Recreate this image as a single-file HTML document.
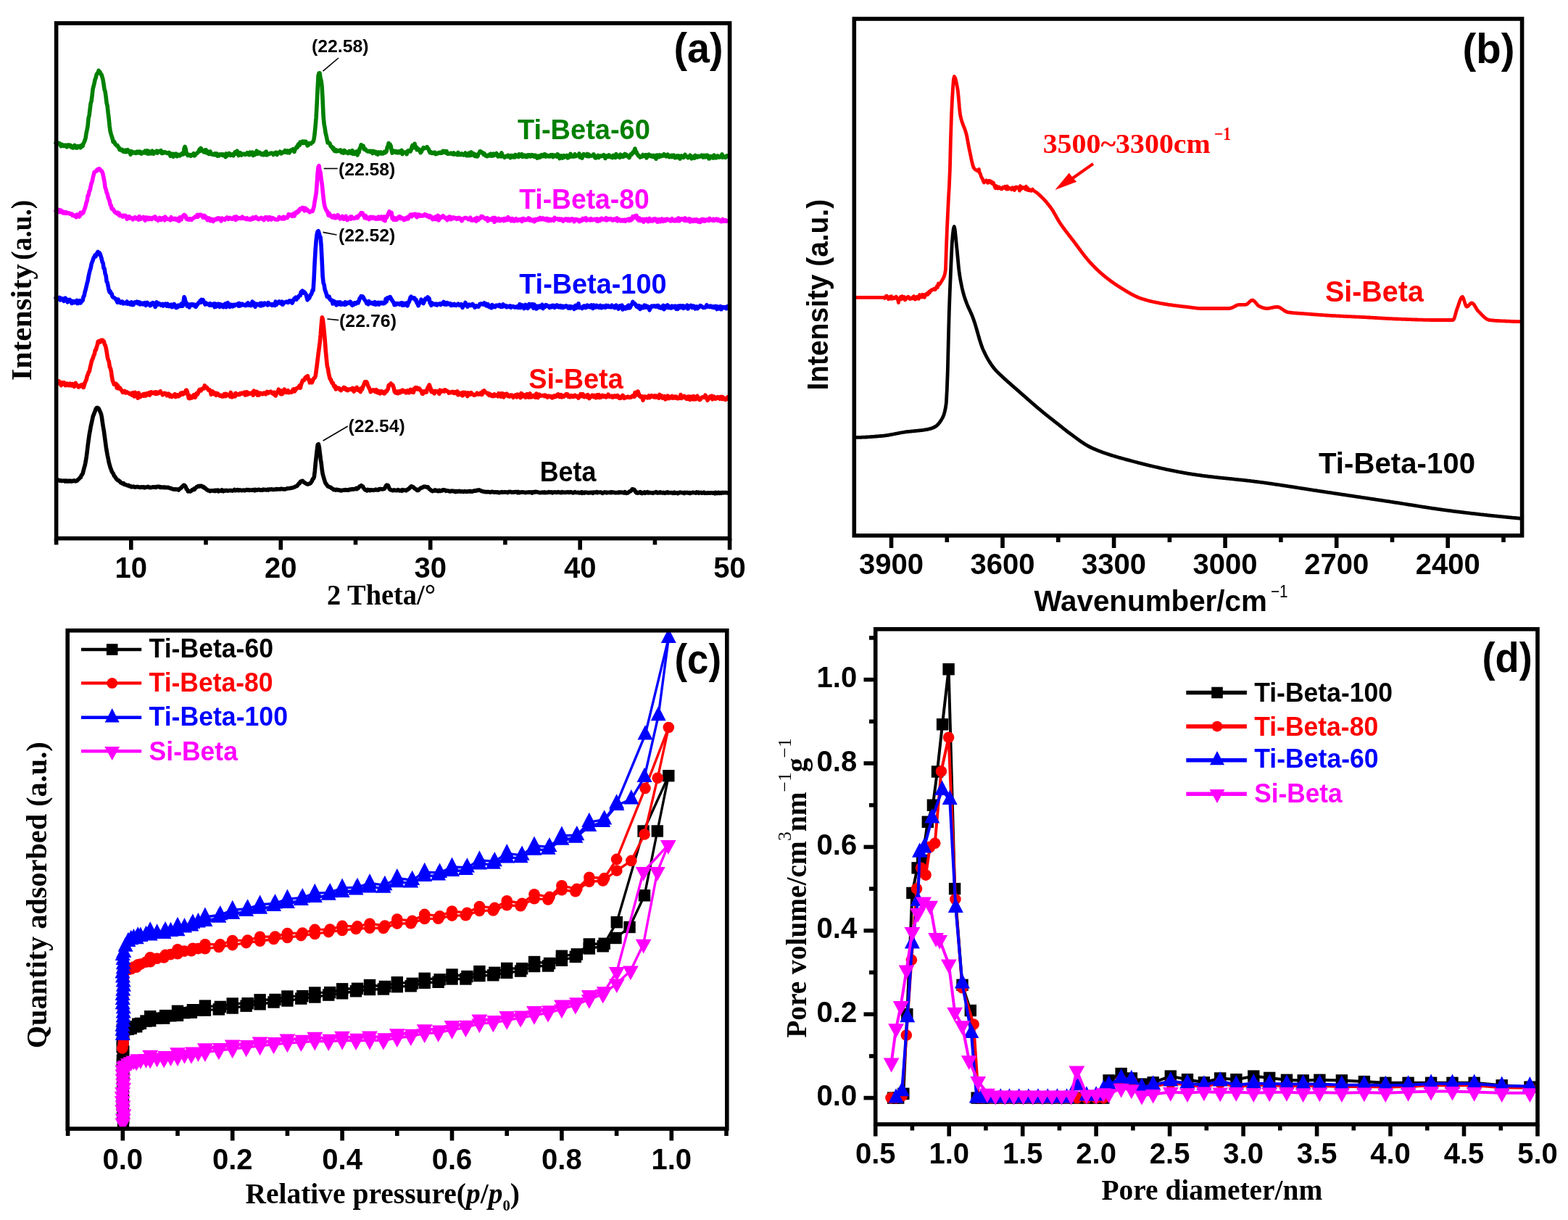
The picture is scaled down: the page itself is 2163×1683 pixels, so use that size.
<!DOCTYPE html><html><head><meta charset="utf-8"><title>Figure</title><style>html,body{margin:0;padding:0;background:#fff;overflow:hidden}svg{display:block}</style></head><body><svg width="2163" height="1683" viewBox="0 0 2163 1683"><rect width="100%" height="100%" fill="#fff"/><path d="M77.1 197.2l1 0.8l1 -0.4l1 -0.5l1 1l1 -0.4l1 1.8l1 2.1l1 -2.2l1 0.1l1 1.8l1 0.1l1 -0.1l1 -1.2l1 1.5l1 1.3l1 -2.7l1 1.5l1 -1.8l1 1.1l1 -0.6l1 2.5l1 -1.3l1 2.4l1 -0.1l1 -0.3l1 -3.2l1 2.8l1 0.7l1 0.2l1 -2.5l1 1.2l1 -1l1 -0.2l1 2.2l1 -3.2l1 0.4l1 0.5l1 -3.7l1 -1.7l1 -2.5l1 -3.4l1 -6.8l1 -4.6l1 -5.2l1 -10.9l1 -3.5l1 -8.3l1 -8.3l1 -3l1 -7.9l1 -8.9l1 -3.9l1 -4.1l1 -4.9l1 -2.4l1 -4.4l1 -1.7l1 -0.7l1 -3.4l1 1.8l1 0.5l1 2.8l1 0.5l1 3.5l1 4l1 6.5l1 6.4l1 3l1 7.1l1 8.9l1 3.5l1 9.6l1 7.9l1 10.3l1 7.2l1 3.9l1 3.3l1 3l1 4.8l1 -0.9l1 1.8l1 2.4l1 0.6l1 1.2l1 -0.2l1 2.5l1 0.3l1 3.1l1 -0.1l1 -0.3l1 1.5l1 -0.9l1 2.4l1 -1l1 1.2l1 -2.3l1 2.6l1 -2.7l1 -0.4l1 2.5l1 -0.7l1 1.6l1 3l1 -4.2l1 0.4l1 1.2l1 0.5l1 -0.9l1 0l1 1.4l1 -0.2l1 -2.1l1 1.4l1 0.2l1 -1.5l1 1.9l1 -1.6l1 2.6l1 -1l1 -0.1l1 -1l1 0.7l1 -2.6l1 1.2l1 2.1l1 -3.5l1 4.2l1 -3.7l1 3.5l1 -2.4l1 2.2l1 -1l1 -2.5l1 3.8l1 0.1l1 -2.2l1 -0.4l1 0l1 -1.2l1 2.8l1 -2.4l1 0.7l1 -1.1l1 0.2l1 -0.8l1 3.7l1 -1.9l1 1.8l1 -1.1l1 -0.7l1 0.8l1 0l1 1.1l1 -0.2l1 0.4l1 -1.2l1 1.2l1 3.7l1 -2.9l1 -0.3l1 2.3l1 1.7l1 -3.8l1 1.9l1 -0.5l1 -1.5l1 3.5l1 -1.1l1 0.1l1 -1.3l1 1.5l1 -1.7l1 0.3l1 -1.8l1 -0.6l1 1.8l1 -8l1 -2.6l1 2.8l1 5.8l1 2l1 1.6l1 -1.3l1 0.2l1 0.2l1 1.6l1 -0.6l1 -0.5l1 -1.3l1 -1.1l1 3.1l1 -0.5l1 -2.3l1 -0.1l1 -0.8l1 -1.1l1 -1l1 -2.8l1 2.2l1 -4l1 3l1 -0.3l1 0.9l1 1.9l1 0l1 -3.1l1 -0.1l1 4.1l1 -2l1 2l1 1.6l1 -3.1l1 -0.3l1 3.7l1 0l1 0l1 0.7l1 -1l1 -0.6l1 2l1 -0.9l1 -0.9l1 3l1 -0.8l1 0.6l1 -1.9l1 0.4l1 -0.5l1 0.1l1 1.5l1 -1.4l1 1.5l1 -0.1l1 2.3l1 -4.8l1 3.1l1 -1.4l1 0l1 -2.1l1 1.3l1 1.6l1 -1.2l1 0.2l1 -0.6l1 1.9l1 -1.7l1 -3.1l1 2l1 -1.9l1 -1.8l1 3.7l1 2.6l1 -1.9l1 -1.8l1 0.3l1 2.9l1 -1.4l1 -0.2l1 -0.2l1 0.1l1 1l1 -0.4l1 -0.5l1 -1.7l1 2.1l1 -1.7l1 2.5l1 -3.4l1 1.6l1 0.2l1 -1.9l1 4.3l1 -0.4l1 -2.7l1 1.7l1 -0.6l1 -4.2l1 4l1 -0.5l1 0.2l1 -1.6l1 1.1l1 0.1l1 1.9l1 -1.2l1 -0.5l1 2.1l1 -2.9l1 0.2l1 -2l1 4.7l1 -0.9l1 -0.1l1 -0.3l1 -0.9l1 0.2l1 -0.7l1 0l1 0.3l1 2l1 -1.3l1 -0.9l1 -0.8l1 -0.1l1 3.1l1 -1.6l1 -0.7l1 -0.7l1 -1.1l1 1.4l1 1.2l1 -1.9l1 0.1l1 -0.2l1 0.3l1 -2.5l1 1.7l1 -1.1l1 2.3l1 -2.6l1 1.7l1 1l1 -2.8l1 -0.7l1 0.8l1 -0.5l1 -1.7l1 1.7l1 1.8l1 -3.7l1 -0.7l1 -2.2l1 0.7l1 -3.6l1 -1.2l1 1.9l1 -4.3l1 1.6l1 -0.3l1 -2.4l1 0.2l1 2.1l1 -2.3l1 0.3l1 -0.1l1 2.9l1 2.7l1 -0.4l1 -2.7l1 -0.1l1 0.1l1 0.5l1 -1.5l1 -0.4l1 -1.1l1 -3.6l1 -7.2l1 -10.2l1 -12.1l1 -18.1l1 -21.4l1 -18.7l1 -3.1l1 0l1 7.5l1 2.9l1 8.3l1 17.9l1 22.8l1 11l1 4.8l1 7.4l1 3.7l1 5l1 4.7l1 -0.6l1 0.7l1 1.3l1 3.2l1 1.2l1 -0.1l1 2.7l1 -1l1 3.7l1 0.3l1 0.4l1 -1.8l1 1.7l1 -0.6l1 -0.1l1 0.3l1 -1.1l1 0l1 3.3l1 -1.2l1 0.7l1 1.2l1 -3.7l1 1.4l1 1.4l1 0.4l1 -1l1 2l1 -1.1l1 -2l1 0.5l1 2.4l1 -0.4l1 -3.3l1 4.6l1 -1l1 1l1 -2.4l1 0.2l1 -1.2l1 5.1l1 -4.5l1 0.7l1 -5.3l1 -1l1 -4.1l1 1.3l1 2.3l1 -2.2l1 4.6l1 0.4l1 -0.6l1 1.8l1 0.7l1 0.8l1 -0.5l1 -0.2l1 1l1 -0.8l1 -0.2l1 1.9l1 1.4l1 -3.2l1 2.3l1 -0.8l1 -0.4l1 2.7l1 -1.9l1 2.9l1 -3.2l1 1.7l1 -0.8l1 -0.8l1 1.9l1 -1l1 1l1 -0.9l1 -1.5l1 1.3l1 -0.8l1 -1l1 -5.5l1 -1.6l1 -4.4l1 2.6l1 -0.9l1 2l1 5.8l1 4.1l1 -3.2l1 0.6l1 0.5l1 -0.6l1 2.1l1 -1.6l1 0.1l1 1.8l1 -1.9l1 1.7l1 -2l1 -0.3l1 -0.9l1 5.2l1 -3l1 0.7l1 -0.3l1 0.2l1 -0.1l1 2.6l1 -4.2l1 -0.7l1 0.8l1 -1.1l1 1.4l1 -1.9l1 -4.4l1 -2.1l1 0.6l1 2.6l1 -5.4l1 5.5l1 -1.2l1 4.1l1 -1.9l1 2.1l1 -0.9l1 1.2l1 3.4l1 -1.1l1 -2.2l1 -1.5l1 -2.2l1 1.2l1 -0.2l1 -0.5l1 -0.2l1 -1.3l1 2l1 0.9l1 3l1 2.1l1 -1.2l0.9 0.6l1 1.4l1 -0.7l1 -0.1l1 1l1 -1.4l1 2.4l1 -1l1 0.5l1 -0.6l1 -0.8l1 -0.4l1 0.9l1 -0.8l1 0.8l1 -0.7l1 -2.2l1 1.9l1 -1.8l1 1.3l1 0.9l1 -2l1 3.4l1 0.3l1 -0.3l1 -0.3l1 0.2l1 -0.8l1 1l1 -0.4l1 1l1 -1.8l1 2l1 -0.1l1 -0.3l1 -0.4l1 1.4l1 -3l1 3l1 -0.3l1 0.1l1 0.2l1 -1.5l1 0.6l1 1.3l1 -0.2l1 -0.3l1 -2.4l1 2.9l1 0.9l1 -0.1l1 -1.1l1 -2.5l1 3.6l1 -1.5l1 -3.3l1 4.1l1 -2.6l1 0.3l1 1l1 2.7l1 -2.3l1 0.9l1 1.9l1 -0.5l1 -3l1 -1.1l1 -2.5l1 -0.1l1 1.3l1 0.3l1 0.6l1 2.3l1 -1.5l1 1.7l1 1.5l1 0l1 0.7l1 -0.8l1 -1l1 1l1 -1.9l1 -0.8l1 3.1l1 -0.9l1 0.6l1 -2.8l1 1.9l1 -0.3l1 -0.3l1 -1.9l1 2.7l1 1.8l1 -0.7l1 -1.4l1 0.9l1 1.1l1 -5l1 3.7l1 1l1 0.2l1 1.4l1 -0.8l1 -1.1l1 0l1 0.6l1 -1.8l1 0.7l1 1.3l1 1.5l1 -3l1 0.2l1 0.3l1 1.6l1 -1.9l1 2.1l1 -3.4l1 1.1l1 0l1 1.4l1 0.4l1 -3.6l1 0.8l1 1.8l1 -1.4l1 -1.2l1 3.6l1 -0.8l1 0l1 -1.3l1 2.1l1 -1.8l1 1.9l1 -2.8l1 0l1 1.5l1 -1.2l1 1.9l1 -0.6l1 -1.6l1 1.4l1 -0.6l1 1.7l1 -2.1l1 0.3l1 2.3l1 1.4l1 -0.3l1 -2.7l1 0.2l1 1.8l1 -2.3l1 -1.2l1 1.6l1 0.4l1 -1.8l1 -1.1l1 0.3l1 3l1 -2l1 0.8l1 0.5l1 0.6l1 -1.3l1 1.1l1 -1.9l1 0.7l1 -0.9l1 3l1 -1.6l1 -1l1 0.6l1 0.2l1 1.3l1 -3.3l1 0.8l1 1l1 4l1 -2.2l1 -1.5l1 1.2l1 1.9l1 -3.2l1 -0.2l1 2.2l1 -1l1 0.3l1 -1.7l1 3.4l1 -0.3l1 -1.6l1 0.2l1 -3.8l1 3.7l1 -1.1l1 0.9l1 0.3l1 -1.4l1 -1.9l1 2.9l1 -1.6l1 0.6l1 -0.4l1 0.4l1 -2.8l1 5l1 -1.4l1 1.2l1 1.3l1 -2.8l1 -2.5l1 1.3l1 -0.5l1 1l1 0.8l1 -2.9l1 3.3l1 -2.6l1 2.5l1 -0.5l1 -0.3l1 0.3l1 -0.6l1 -0.1l1 -1.5l1 2.3l1 2.6l1 0.2l1 -0.9l1 -0.8l1 -2l1 3l1 -2.1l1 0l1 -0.3l1 0.5l1 -0.7l1 0.5l1 -1.4l1 1l1 3.7l1 -3.3l1 -0.2l1 1.1l1 0.2l1 -2.5l1 1.2l1 1.6l1 -0.9l1 -0.2l1 2l1 -3.1l1 1.1l1 -0.9l1 2.8l1 -4.8l1 1.8l1 0.2l1 1.7l1 -0.1l1 1.1l1 -4.1l1 3.2l1 -1.4l1 -0.5l1 1.7l1 -2.1l1 -1.6l1 2.4l1 -1.6l1 1.2l1 1.4l1 -0.1l1 1.8l1 -2.6l1 -2.1l1 0.5l1 -1.3l1 -2l1 0.5l1 -3l1 -2.4l1 4.3l1 0.4l1 2.5l1 1.2l1 1.8l1 -0.3l1 2l1 -1.1l1 0l1 0.1l1 -2.6l1 1.8l1 -0.2l1 0.7l1 -2.2l1 4.2l1 -2.1l1 -1.9l1 -0.7l1 2l1 0.3l1 -0.9l1 1.2l1 -1.1l1 1.7l1 -1.8l1 1l1 1.4l1 2.3l1 -5.1l1 0.8l1 -0.5l1 2.3l1 -2.7l1 0.9l1 0.6l1 -1.3l1 0l1 0.7l1 -2.2l1 0.9l1 1.4l1 0.8l1 -0.5l1 -2.2l1 1.9l1 1.7l1 -0.3l1 -0.9l1 -1.1l1 2.1l1 -1.7l1 -0.8l1 0.5l1 3.2l1 -1.7l1 1.3l1 -2.3l1 2l1 -2.2l1 0.6l1 3.7l1 -2.4l1 -1.7l1 0.6l1 0.5l1 1.3l1 -2.4l1 -1.7l1 2l1 0.4l1 0.2l1 1.7l1 -1.4l1 0.7l1 -2.7l1 2.7l1 1.8l1 -1.9l1 -0.7l1 -0.1l1 2.2l1 -3.8l1 1.2l1 0.8l1 0.4l1 -1.7l1 1.1l1 -0.8l1 0.5l1 -0.3l1 -1.4l1 1.5l1 1.3l1 -2.6l1 1.1l1 1.2l1 -2.4l1 1.8l1 -1.8l1 3.1l1 1.6l1 -0.4l1 -3.1l1 1.4l1 -0.9l1 0l1 2l1 -4l1 3.3l1 -1.5l1 2l1 -1.7l1 -1.2l1 1.3l1 0.7l1 -1l1 0.6l1 -1.4l1 -2.2l1 4.2l1 -0.2l1 -0.8l1 -0.1l1 1.3l1 -2l1 -0.4l1 0.7" fill="none" stroke="#008000" stroke-width="5.6" stroke-linejoin="round" stroke-linecap="round"/><path d="M77.1 290.9l1 -2.7l1 3.4l1 -1.9l1 -0.3l1 3.2l1 -1.4l1 -1.1l1 1.4l1 1.8l1 0.6l1 -1.6l1 1.2l1 0.7l1 -1.4l1 1.4l1 -0.2l1 -0.3l1 0.3l1 1l1 0.2l1 -0.4l1 0.4l1 2.1l1 -0.8l1 1l1 0.6l1 -0.6l1 2.1l1 -3.6l1 2l1 -1.5l1 2.4l1 -0.7l1 -4.9l1 0.5l1 1.1l1 -0.8l1 -1.2l1 -3.2l1 -2.4l1 -3.3l1 -4.6l1 -2.1l1 -7.5l1 -0.2l1 -5.8l1 -1.5l1 -5.1l1 -4.4l1 -2l1 -5.4l1 -3.8l1 -4.1l1 -0.6l1 -0.6l1 -0.3l1 -2.2l1 0.9l1 -1.7l1 -0.2l1 1.2l1 1.7l1 -0.1l1 1.9l1 3l1 5.4l1 4.8l1 7.9l1 2.4l1 4.7l1 1.8l1 4.5l1 2.9l1 1.9l1 5.7l1 0.8l1 4.3l1 1.2l1 -0.2l1 1.6l1 2.1l1 0.7l1 0.9l1 0.4l1 -1l1 2.5l1 -1.8l1 3.6l1 -0.9l1 0.4l1 1l1 1l1 -1.7l1 -0.1l1 1.1l1 -1l1 1.5l1 3.2l1 -3.1l1 2.1l1 -2.4l1 2.1l1 -0.7l1 0.4l1 0.8l1 1.5l1 -1.9l1 0l1 -1.3l1 1.9l1 -0.9l1 1.3l1 -1l1 2.2l1 -4.5l1 2.1l1 1.4l1 -1.4l1 -0.6l1 0.7l1 -1.3l1 1.8l1 2.8l1 -1.5l1 -2.7l1 0.3l1 0.6l1 1.8l1 -2.2l1 0.2l1 1.9l1 0l1 -1.4l1 -0.9l1 -0.5l1 1.1l1 -1.8l1 3.6l1 -1.6l1 1.3l1 1.7l1 -0.8l1 -2.7l1 2.4l1 0.4l1 -2.2l1 -0.2l1 1l1 -1.8l1 3.8l1 -4.7l1 1.6l1 1.1l1 0l1 0.5l1 0.2l1 -0.6l1 1.7l1 -4l1 2.6l1 -0.8l1 1l1 0.1l1 -1.3l1 0.3l1 1.7l1 -0.5l1 -1.2l1 3.2l1 0.1l1 -5.1l1 1.4l1 1.7l1 -3l1 -1.5l1 -1.2l1 -0.8l1 0.6l1 1.1l1 3.8l1 0.4l1 0.6l1 -1l1 1.1l1 -1.3l1 0.5l1 1l1 -1.3l1 -0.3l1 -0.8l1 -0.9l1 -0.8l1 -0.7l1 0.8l1 -2.7l1 2.6l1 -1.8l1 -1.1l1 0.2l1 -0.1l1 1.4l1 -0.5l1 2.9l1 -1.5l1 -1.1l1 2.6l1 -0.9l1 2.8l1 1.6l1 -0.4l1 -2.4l1 0.7l1 3l1 -1.7l1 -0.4l1 1.2l1 1.7l1 -1.4l1 -1.4l1 0.2l1 0.3l1 -1.5l1 -0.6l1 1.3l1 -1.2l1 1.1l1 0.1l1 2.7l1 -3.9l1 0.9l1 -0.1l1 0.7l1 0.7l1 -1.9l1 -0.4l1 -1l1 0.8l1 1.7l1 -0.6l1 -1.3l1 0.7l1 0.5l1 0.5l1 -1.3l1 0.4l1 -1.9l1 0.7l1 3.4l1 -4.6l1 2.2l1 0.6l1 -0.7l1 -0.5l1 0.8l1 0.1l1 -0.1l1 -2.2l1 2.1l1 -0.8l1 0.3l1 1l1 0.5l1 0.3l1 -1.7l1 1.7l1 0.3l1 0l1 0.3l1 -1.9l1 0l1 1.2l1 -2.6l1 1.9l1 -0.9l1 0.2l1 -1.7l1 1l1 1.1l1 1.1l1 0.1l1 -1.3l1 -0.1l1 -0.8l1 1.5l1 -0.8l1 1l1 1.4l1 -2.1l1 -1.8l1 0.8l1 -0.7l1 0.3l1 3l1 -1.3l1 -2.1l1 2.6l1 0.7l1 -1.9l1 -0.4l1 0.4l1 0.7l1 0.5l1 0.6l1 0.1l1 -0.1l1 0.2l1 -0.8l1 -2.7l1 1.6l1 0.4l1 -1l1 1.4l1 -1.7l1 -0.9l1 2.6l1 -1.2l1 -0.8l1 0.6l1 -0.1l1 -1.2l1 -3.7l1 1.8l1 0l1 -1l1 1l1 0.9l1 -2.4l1 -1.2l1 3.4l1 -3.4l1 -1.6l1 1l1 -0.7l1 -2.3l1 0.8l1 -2.5l1 -1.4l1 0.6l1 0.1l1 -2.1l1 1l1 -0.4l1 3.7l1 -3.8l1 3l1 -1.2l1 0.5l1 1.6l1 0.8l1 1l1 -0.8l1 -0.8l1 0.2l1 0.1l1 -2.9l1 -3.6l1 -6.7l1 -5.4l1 -5.9l1 -12.2l1 -15.3l1 -9.2l1 -1.4l1 6.8l1 2.5l1 9.1l1 6.1l1 9.3l1 9.7l1 8.1l1 4.7l1 2.8l1 2.2l1 1.1l1 2.3l1 3.5l1 -2.8l1 3.4l1 -0.7l1 1.9l1 1.1l1 -0.9l1 1.1l1 -2.7l1 3.3l1 -1.9l1 1.5l1 -0.4l1 -3.3l1 2.3l1 1.2l1 1.7l1 -1.5l1 0l1 -2l1 3.5l1 0.5l1 -2.1l1 -0.3l1 -1.7l1 3.1l1 2.2l1 -2.4l1 0.7l1 -0.8l1 -1.8l1 2.8l1 -3.1l1 1.3l1 0.6l1 0.7l1 -0.5l1 -0.1l1 -1.3l1 -0.6l1 1.6l1 -1.4l1 -1.7l1 -1.1l1 -0.3l1 -2.5l1 0.3l1 -0.1l1 2.9l1 1.1l1 2.9l1 -3.3l1 1.6l1 2.3l1 -1.2l1 -0.1l1 2.6l1 -2.4l1 -0.9l1 -0.1l1 2.1l1 0l1 -1.9l1 0.5l1 1.9l1 0.1l1 -1.4l1 1.5l1 0l1 -2.8l1 1.8l1 0.9l1 -1.1l1 -1.9l1 2.2l1 1.3l1 1l1 -4.5l1 5.7l1 -5.2l1 0.9l1 -1.7l1 -2.3l1 -2.5l1 -2.1l1 2.7l1 -0.4l1 -0.6l1 8.2l1 -1l1 2.5l1 -2.8l1 2.9l1 0.1l1 0l1 -1.9l1 -1.5l1 1.3l1 -2.5l1 0.6l1 2.1l1 -1.3l1 1l1 0l1 2.4l1 -0.8l1 -1.6l1 1.4l1 -2.4l1 0.5l1 1.1l1 -3.5l1 0.1l1 -2.2l1 1l1 1.6l1 -2.9l1 1.2l1 -1.4l1 -0.3l1 -0.1l1 3.3l1 1.1l1 -2.2l1 -1.4l1 1.7l1 -1.2l1 1.5l1 -0.5l1 0l1 0.5l1 -1.2l1 0.3l1 -1.4l1 1.7l1 -1l1 1.8l1 -0.7l1 1.5l1 0.7l1 -1.9l1 1.1l0.9 0.2l1 2.3l1 1.2l1 -1l1 -1.4l1 2.2l1 -3.6l1 3.7l1 -2.6l1 -2.5l1 6.5l1 -1.4l1 -3.3l1 1.3l1 -0.8l1 0.1l1 -2.1l1 0.9l1 1.5l1 0l1 1.5l1 -1l1 2.9l1 -3.5l1 1.3l1 -2.5l1 0.8l1 3.1l1 -2.7l1 1.8l1 -0.6l1 -1.2l1 0.9l1 -0.2l1 0l1 1.6l1 -0.1l1 -1.5l1 -0.4l1 1.5l1 -0.5l1 1.4l1 2l1 -2.1l1 -1.1l1 -0.1l1 -0.8l1 -0.1l1 0l1 0.7l1 0l1 1.4l1 -1.3l1 0.2l1 -1.2l1 3.5l1 -1.3l1 1.5l1 -1.1l1 0.8l1 -2l1 1.1l1 2.4l1 -4.8l1 2.7l1 0.2l1 -2.1l1 -0.3l1 0l1 -2.5l1 1.5l1 -0.9l1 1l1 0.7l1 1l1 0.6l1 0.5l1 -2.2l1 4.2l1 -1l1 -0.5l1 -1.3l1 0.4l1 0.8l1 -0.2l1 -2.5l1 3l1 2.7l1 -5.8l1 3.5l1 -0.8l1 -0.5l1 1.8l1 -3.1l1 1.7l1 1.6l1 -2l1 -0.3l1 0.7l1 -0.7l1 2.4l1 -3l1 2.2l1 -2.6l1 2.4l1 -1l1 -3.1l1 3.2l1 -1.3l1 0.8l1 2.4l1 -3.2l1 0l1 3.1l1 -1.6l1 1.8l1 -1.5l1 -1.5l1 1l1 1.6l1 -0.4l1 -1.1l1 0l1 -0.1l1 -0.6l1 3.1l1 -2.4l1 -1.4l1 0.8l1 1.5l1 -0.1l1 -1l1 -0.6l1 0.9l1 -2.1l1 0.4l1 2.6l1 -1.6l1 1.1l1 1l1 -0.7l1 -0.7l1 2.6l1 -1.8l1 -1.3l1 1.4l1 -0.4l1 -1.6l1 1.2l1 -0.3l1 -2.3l1 2.3l1 -0.2l1 -0.2l1 -1.4l1 1.6l1 0.3l1 0.2l1 -1.5l1 2.2l1 -2.3l1 1.2l1 1.9l1 -2.4l1 0.2l1 1.9l1 -1.7l1 0.1l1 0.6l1 1l1 -4l1 1.7l1 -0.2l1 -0.1l1 0.3l1 0l1 1.4l1 -1.4l1 1.2l1 0.4l1 -1.4l1 1l1 1.9l1 -1.6l1 -1.2l1 0.7l1 -1l1 1.4l1 0.8l1 -2.1l1 0.7l1 1.7l1 -2l1 0.8l1 -1.4l1 0.2l1 0.4l1 3.2l1 -3.1l1 -0.1l1 0l1 0.4l1 1l1 -0.5l1 2.2l1 -2.2l1 1.5l1 -1.4l1 0.4l1 -2.5l1 1.6l1 0.1l1 -0.2l1 -2.3l1 3.6l1 -1.5l1 0l1 0.2l1 0l1 0.8l1 -2l1 0.4l1 1.5l1 -0.2l1 -0.6l1 -0.3l1 -0.3l1 1l1 1.4l1 -2.6l1 3.1l1 -0.9l1 -1.5l1 1.5l1 -2.7l1 -0.3l1 0.5l1 1.1l1 0.1l1 -0.3l1 0.8l1 -2.7l1 3.2l1 -2.3l1 0.9l1 0.3l1 -0.9l1 -0.3l1 0.5l1 1.2l1 0.7l1 0l1 -1.9l1 0.3l1 -0.2l1 1.6l1 -2.9l1 3.9l1 -2.1l1 -0.3l1 1.3l1 0.9l1 -0.9l1 0.9l1 -1.1l1 1.3l1 0l1 -1.6l1 1.9l1 -1.5l1 -0.1l1 -1.2l1 0.7l1 1.3l1 -2.6l1 2.2l1 -0.7l1 -0.7l1 -3.9l1 1.4l1 0l1 -2l1 1.4l1 -2.1l1 4.7l1 -0.6l1 2.5l1 -2.9l1 3.2l1 -1.1l1 1.3l1 -2.1l1 0.4l1 3.4l1 -3.7l1 0.2l1 0.5l1 -0.9l1 2.7l1 0.6l1 -2.9l1 -1.2l1 3.5l1 -0.1l1 -0.3l1 0.4l1 -2.5l1 0.9l1 -1.5l1 0l1 2.9l1 -2l1 3.5l1 -2.6l1 -0.9l1 1.8l1 1.2l1 -1.6l1 -2.1l1 2l1 1.2l1 -2.3l1 -0.3l1 2.1l1 -1l1 -1.5l1 0.9l1 -0.5l1 1.3l1 -0.2l1 1.2l1 -0.5l1 -2.7l1 2.3l1 0.6l1 -0.5l1 0.7l1 -1.9l1 -0.5l1 2.3l1 -2.4l1 -1.3l1 3.8l1 -2.1l1 0.5l1 -1.3l1 0.1l1 0.2l1 1l1 0.9l1 -3.2l1 3.6l1 -2.3l1 0.1l1 2.1l1 -0.9l1 -1.7l1 4l1 -3.2l1 1.3l1 0l1 1.4l1 -2.2l1 1.8l1 -2.1l1 2.2l1 -2.3l1 0.5l1 2.7l1 -1.8l1 -0.3l1 2.6l1 -2.3l1 -1.4l1 1.9l1 -2.3l1 2.7l1 0.1l1 -2.1l1 0l1 0.9l1 -0.2l1 -1.2l1 1.9l1 -3.1l1 1.9l1 0l1 0.2l1 0.7l1 -1.8l1 2.1l1 -0.9l1 -0.5l1 -0.9l1 0.2l1 1.9l1 -1.6l1 1.2l1 1.2l1 0l1 0.6l1 -2.2l1 -0.9l1 2.5l1 -0.8l1 0.9l1 -1.3l1 1.4l1 -0.4l1 -0.1" fill="none" stroke="#ff00ff" stroke-width="5.6" stroke-linejoin="round" stroke-linecap="round"/><path d="M77.1 411l1 0l1 0l1 0.2l1 1.2l1 -1.9l1 3.4l1 -2.4l1 1.8l1 -1.3l1 0l1 3.4l1 -3.1l1 -1.1l1 1.1l1 0.8l1 3.7l1 -2.4l1 1.3l1 -2.3l1 2.3l1 0.8l1 1.9l1 -3.1l1 2.2l1 -0.1l1 -1.6l1 1.6l1 -0.1l1 -2.8l1 4.1l1 -0.2l1 -1.7l1 -1.9l1 3.2l1 -2.6l1 0l1 -0.9l1 -5.1l1 -1.4l1 -5.1l1 -3.4l1 -4.2l1 -4.5l1 -3.2l1 -6.1l1 -4.5l1 -4.1l1 -3l1 -5.5l1 -2.9l1 -2.4l1 -3.3l1 -1.3l1 -2.6l1 1.9l1 -2.5l1 -2.4l1 -1.5l1 3l1 -1.7l1 1.5l1 3.3l1 3.2l1 4.7l1 1.5l1 7.2l1 0.5l1 7.1l1 2.3l1 8.3l1 1.5l1 4.7l1 5.2l1 3.2l1 -1l1 3.1l1 0.3l1 3.8l1 0.9l1 0.7l1 0.4l1 1.3l1 0.2l1 2.6l1 2l1 -4.2l1 3.1l1 0.1l1 1.6l1 -1.7l1 1.4l1 -1.2l1 2.5l1 -0.7l1 -0.3l1 0.8l1 -0.9l1 -1.7l1 3l1 -0.4l1 -0.6l1 1.7l1 0.3l1 -3.2l1 0.5l1 3.3l1 -0.2l1 -3l1 -0.6l1 0.8l1 0.2l1 -1.5l1 2.3l1 -1.8l1 0.1l1 3l1 -2.2l1 0.8l1 1l1 0.3l1 -1.6l1 0.6l1 -1.2l1 3.7l1 -1.5l1 -2.5l1 1.6l1 1.1l1 -0.3l1 2l1 -0.6l1 -2.6l1 0.7l1 -1.6l1 2.2l1 0l1 3.7l1 -3.6l1 -3l1 2.1l1 1.2l1 -1.8l1 0.7l1 0.8l1 1.1l1 -0.7l1 -0.9l1 2.5l1 -1.8l1 0.2l1 -1.2l1 1l1 2.1l1 -3.1l1 2.2l1 1.2l1 -1.4l1 0.9l1 -1.8l1 3.4l1 -0.2l1 -1.2l1 -2.7l1 1l1 2.9l1 1.1l1 -2l1 1.3l1 -2.6l1 0.6l1 0.1l1 0.4l1 -3.1l1 3l1 -0.1l1 -5.8l1 -6.6l1 2.6l1 5.7l1 -0.3l1 4.4l1 -0.9l1 -0.9l1 3.7l1 -2.8l1 -1.3l1 1.2l1 -1.6l1 0.4l1 1.6l1 -1.3l1 0.2l1 2.9l1 -1.8l1 -1.1l1 -1.6l1 -1.3l1 0.2l1 -2.9l1 2.4l1 -3.8l1 1.4l1 -1l1 2.1l1 2l1 2.1l1 -2.2l1 1.7l1 0.1l1 0l1 -0.3l1 1.8l1 -2.5l1 2.6l1 -0.2l1 -0.9l1 -0.5l1 -0.6l1 4.6l1 -4.5l1 4l1 -1.3l1 -1.4l1 -1.1l1 3.1l1 0.9l1 -3.7l1 0.8l1 1.9l1 -1l1 2.3l1 -3.6l1 1.5l1 -2.5l1 4.7l1 -4l1 -2.1l1 2.9l1 0l1 2.8l1 -3.2l1 0.5l1 0.8l1 1.4l1 -2.4l1 1.5l1 -0.7l1 -1.2l1 0.5l1 -0.1l1 -1.3l1 2.9l1 -3.6l1 3.5l1 -0.3l1 -1.5l1 -1l1 0.8l1 0.9l1 0.4l1 -0.7l1 1l1 -2.2l1 1.1l1 -2.6l1 3.3l1 -0.9l1 -0.8l1 2.2l1 -0.7l1 -4.9l1 3.9l1 -2.1l1 3.5l1 2l1 -4.2l1 0.8l1 -0.5l1 0.8l1 0.4l1 0.9l1 -3.2l1 3.5l1 -3.5l1 1.6l1 1.2l1 -0.6l1 -2.4l1 0.3l1 0.3l1 0.6l1 1.6l1 -3.4l1 2.4l1 0.2l1 -0.2l1 -0.1l1 1.4l1 -1.5l1 0.5l1 -0.5l1 1.7l1 -5.3l1 4.4l1 -2.2l1 -0.1l1 -1l1 -1.3l1 2l1 -0.5l1 1.6l1 -2.8l1 4l1 -1.7l1 -0.9l1 -0.7l1 -0.2l1 -0.6l1 0.7l1 0.6l1 -0.5l1 -2l1 1.3l1 -1.2l1 1l1 2l1 -2.2l1 -1.9l1 -2.3l1 -0.3l1 -1l1 2.7l1 -2.7l1 0.4l1 -2.1l1 -0.7l1 -0.1l1 -4.7l1 -0.8l1 -1l1 2.7l1 -1.7l1 1.1l1 1.1l1 1.5l1 3.9l1 3.9l1 -4.5l1 2.6l1 -1.7l1 -3.1l1 -0.7l1 -2.3l1 -3.7l1 0l1 -16l1 -21.5l1 -17.2l1 -13.3l1 -8.7l1 -4.1l1 -0.9l1 2.7l1 4.4l1 1.7l1 11.6l1 19.7l1 22l1 9.4l1 2.5l1 6.6l1 2.7l1 3l1 4.2l1 -1l1 2.2l1 -1.2l1 3.6l1 1.3l1 -0.2l1 0.8l1 4.3l1 -3.8l1 0.7l1 0.6l1 3l1 1.3l1 -2.4l1 -1.5l1 0.5l1 2.1l1 -2.7l1 3.3l1 0l1 -1.8l1 0.8l1 0.2l1 1.1l1 -3.6l1 3.2l1 -2.2l1 -0.5l1 1.2l1 -0.4l1 -1.1l1 -0.8l1 0.9l1 3.4l1 0.7l1 -1.8l1 0.7l1 -2.3l1 0.6l1 0.5l1 -1.9l1 0.1l1 0.6l1 -2.5l1 -3.5l1 -0.4l1 -2.7l1 1.1l1 -0.8l1 1l1 2.4l1 1.5l1 1.2l1 1.7l1 2.1l1 0l1 0.9l1 -4.1l1 1.9l1 0l1 0.9l1 -0.9l1 0l1 1.9l1 -0.9l1 -1.8l1 3.5l1 -0.4l1 -2.2l1 2l1 -2.2l1 2.6l1 -1.8l1 -0.9l1 0.7l1 -0.6l1 1.4l1 -0.1l1 -0.2l1 -0.8l1 -5.1l1 3.5l1 -5l1 0.9l1 -0.4l1 -1.7l1 -0.3l1 1.6l1 2l1 1.4l1 1.7l1 0.9l1 3.5l1 -1.7l1 1.3l1 -1.7l1 0.5l1 -0.4l1 0.9l1 0.5l1 -0.8l1 -1.3l1 -0.2l1 3.4l1 -2.8l1 0l1 2.4l1 -0.6l1 -0.8l1 -1.4l1 3.8l1 -3.5l1 -1.4l1 -2.9l1 -3.6l1 -1.2l1 2.1l1 0.3l1 -0.3l1 -0.4l1 0.7l1 2.6l1 -0.5l1 4.2l1 1.1l1 2.7l1 -2.6l1 -2l1 -0.4l1 -3.6l1 4.1l1 0.5l1 0.8l1 -2.3l1 -2.2l1 -2.3l1 -0.1l1 1.3l1 -3l1 1.8l1 0l1 6l1 1.8l0.9 1.8l1 -3.4l1 1.9l1 -0.5l1 0.4l1 -0.3l1 1l1 -1.2l1 1.7l1 -0.8l1 -0.8l1 0.2l1 -0.6l1 1.6l1 -1.8l1 0.5l1 -1.2l1 -1.5l1 3.4l1 -2.4l1 2.7l1 0l1 -2.6l1 1.1l1 0.8l1 -0.4l1 -0.4l1 2.7l1 -1.4l1 1l1 -1.2l1 1.1l1 -1.4l1 1l1 0.9l1 -0.7l1 -0.7l1 -0.9l1 1.8l1 0.3l1 -0.8l1 -0.7l1 1.9l1 2.7l1 -3.8l1 0.9l1 0.1l1 -4.1l1 3.8l1 -1.1l1 2.9l1 -2.2l1 -0.7l1 0.8l1 0.5l1 -0.9l1 0.7l1 -1.8l1 1.6l1 1.4l1 1.7l1 -1.7l1 -0.6l1 1.2l1 -0.4l1 0.5l1 -1.4l1 -2.4l1 -0.1l1 -0.3l1 0.5l1 0.5l1 -0.7l1 -1.2l1 2.5l1 -1.6l1 3l1 0l1 -2.3l1 3.4l1 0.2l1 -1l1 2.2l1 0.3l1 -4.2l1 3.1l1 -0.8l1 0l1 0.8l1 -2.3l1 0.2l1 -0.3l1 0.1l1 1l1 -1.9l1 0.6l1 2.3l1 -0.9l1 0.6l1 -3.1l1 1.5l1 0.3l1 0.9l1 -0.9l1 2.1l1 -1.3l1 0.1l1 0l1 0.9l1 -1.6l1 2.2l1 -0.9l1 -0.4l1 -0.2l1 0.7l1 0.7l1 -0.1l1 -0.8l1 0.7l1 -1l1 1.6l1 -1.8l1 -2.9l1 4.8l1 -1.7l1 -1.8l1 1.4l1 -1l1 4.2l1 -2.3l1 -2.8l1 2.9l1 -1.3l1 3.3l1 -4.2l1 -1.7l1 3.3l1 -0.6l1 -0.1l1 -2.4l1 3.6l1 1.7l1 -5l1 4.4l1 -2.5l1 4.1l1 -2.7l1 -0.8l1 1.8l1 -0.8l1 -1.6l1 1.8l1 -1.7l1 -1.7l1 5.3l1 -3.3l1 -0.4l1 1.4l1 -2.7l1 0.3l1 1.2l1 0l1 0.8l1 1.5l1 -2.3l1 1.4l1 0.2l1 -2.4l1 1.8l1 -1.6l1 2.8l1 -0.8l1 -0.6l1 -1.9l1 2l1 -1.2l1 2l1 -1.1l1 -1l1 2.5l1 -0.3l1 -1.8l1 2.4l1 -2l1 0l1 0.6l1 -1.2l1 0.4l1 0.4l1 2.4l1 -0.1l1 -2.4l1 2.6l1 -2.3l1 0.6l1 0.7l1 -0.8l1 2.9l1 -3l1 -2l1 3.5l1 -2.4l1 0.2l1 -3.8l1 5.6l1 -0.3l1 0l1 0.3l1 1l1 -2.5l1 1.4l1 -2.3l1 0.5l1 2l1 -0.9l1 -2.4l1 2.3l1 -0.7l1 -0.9l1 1.8l1 -1.2l1 -1.6l1 0.6l1 4l1 -4.5l1 2.4l1 0.5l1 0.1l1 -2.6l1 1.2l1 0.7l1 0.9l1 -2l1 -0.7l1 3l1 0.2l1 -1.1l1 -1.3l1 1.4l1 -0.4l1 1l1 -2.9l1 1.9l1 -0.4l1 -1.3l1 1.9l1 -0.3l1 -0.6l1 1.1l1 -2.5l1 1.9l1 0.7l1 -0.2l1 1.1l1 -3.2l1 -0.4l1 2.5l1 0.3l1 2.3l1 -2.1l1 -2.1l1 2.4l1 -2.3l1 -0.9l1 5.7l1 -3.2l1 0.6l1 -0.2l1 1.7l1 -2.1l1 1.3l1 -3.2l1 -0.6l1 3.7l1 -0.4l1 -2.2l1 -1.8l1 -1.6l1 -2.5l1 2.6l1 -0.7l1 1l1 1.4l1 2.3l1 0.2l1 0.8l1 -2.4l1 2.4l1 2.4l1 -3.8l1 0.6l1 1.4l1 0.1l1 -0.4l1 -3.2l1 3l1 -2.4l1 0.5l1 2l1 -1.2l1 1.5l1 3.3l1 -3.3l1 -0.1l1 -2.2l1 0.3l1 -0.5l1 0.7l1 -0.8l1 0.6l1 0.7l1 -1.1l1 -0.6l1 0.1l1 2.5l1 -0.5l1 1.3l1 0.1l1 -2l1 1.4l1 -2.9l1 5.2l1 -1.5l1 -2l1 -1.3l1 2.2l1 -3.2l1 1.5l1 2.2l1 -1l1 -0.7l1 2l1 -2.8l1 1.9l1 -1.1l1 -0.5l1 1.8l1 -2l1 4l1 -3.4l1 3.6l1 -4.3l1 2.3l1 -2.5l1 -0.2l1 2.1l1 0.8l1 -2.8l1 3.5l1 -2.8l1 1.3l1 0.4l1 0.3l1 -3.4l1 4.8l1 -1.5l1 -1.3l1 -0.9l1 -0.9l1 0.5l1 2.6l1 -1.2l1 -1.1l1 0.9l1 2.9l1 -2.7l1 -0.3l1 2.7l1 -1.2l1 -0.6l1 -0.9l1 -1.3l1 0.5l1 1l1 0.3l1 0.8l1 0.3l1 -0.4l1 0l1 -1.7l1 -1.6l1 2.2l1 -0.6l1 0.5l1 0.5l1 -1.3l1 0.1l1 1.5l1 0.3l1 -1.1l1 1.6l1 -1l1 -1.1l1 1.5l1 2.6l1 -3.6l1 2.6l1 0.3l1 0.1l1 -3.2l1 4l1 -2.7l1 -0.5l1 0.1l1 1.1l1 -0.7l1 -0.4l1 2.1l1 -2.8l1 -0.5" fill="none" stroke="#0000ff" stroke-width="5.6" stroke-linejoin="round" stroke-linecap="round"/><path d="M78.3 525.9l1 0.7l1 1.4l1 -2.3l1 3.7l1 -0.2l1 2.4l1 -3.8l1 2.3l1 -0.6l1 -1.8l1 1.3l1 2.7l1 -2.2l1 -0.3l1 2.2l1 0.2l1 0.1l1 -2.5l1 1.1l1 1.6l1 -2.3l1 0l1 2.4l1 1.4l1 -3.4l1 -1.6l1 2l1 1l1 1.4l1 1.2l1 -1.2l1 -0.9l1 0.9l1 -1.9l1 0.9l1 -1.4l1 4.1l1 -3.3l1 -3.4l1 -2.4l1 -2.1l1 -4.9l1 -2l1 -3.1l1 -1l1 -5.2l1 -4l1 -4.2l1 -3.1l1 -1.9l1 -3.7l1 -1.5l1 -5.5l1 -0.5l1 -3.9l1 -2.9l1 -4.9l1 -0.4l1 1.4l1 -0.1l1 -2.4l1 0.7l1 -1.1l1 1l1 1l1 4l1 1.4l1 3.9l1 5.8l1 6.5l1 3.9l1 2.2l1 7.4l1 1.8l1 4l1 7.6l1 5.3l1 2.6l1 2.7l1 -0.9l1 1.6l1 -1.4l1 5.7l1 -3.7l1 4.3l1 -1.4l1 0.5l1 1.8l1 1.3l1 1.1l1 2.2l1 -1.4l1 1.2l1 -1.6l1 2.3l1 -0.4l1 -0.5l1 0.9l1 0.4l1 0.7l1 0.7l1 -1l1 0.1l1 2.4l1 -3.2l1 1.8l1 3.3l1 -5.7l1 3l1 2l1 -3.1l1 6l1 -7.2l1 5.6l1 0.1l1 -0.9l1 -1.7l1 0.7l1 -1.9l1 2.3l1 -2.9l1 1l1 1.6l1 -3.1l1 0.8l1 0.6l1 -2.3l1 3.3l1 -1.4l1 -2.8l1 1.8l1 -1.2l1 0l1 0.8l1 -1.2l1 2.1l1 -2.4l1 2.2l1 -1.5l1 1.1l1 -2l1 0l1 -0.9l1 2.4l1 0.6l1 1.9l1 -1l1 -1.2l1 -0.3l1 1.1l1 -0.2l1 2.5l1 -0.4l1 -2.1l1 0.6l1 3.2l1 -1.2l1 -0.4l1 2.2l1 -1.9l1 0.3l1 -0.2l1 -2l1 3.9l1 -3l1 0.8l1 -0.5l1 1.9l1 -1.4l1 -0.2l1 -2.8l1 1.9l1 -2.4l1 2l1 -0.5l1 -2l1 1l1 -3.8l1 -0.4l1 2.1l1 4.3l1 4.7l1 0.3l1 -3.5l1 3.1l1 -1l1 0.4l1 -1.1l1 -2.7l1 -0.3l1 3.8l1 -2.7l1 -3l1 1.6l1 -1.9l1 -3.2l1 -1.7l1 -0.2l1 1.6l1 -1.5l1 -1.2l1 0l1 -0.1l1 -4.1l1 2.5l1 -0.3l1 0.1l1 1.9l1 1.6l1 0.9l1 -0.7l1 2.3l1 4l1 -3.9l1 -0.5l1 3.2l1 0.8l1 0.2l1 -1.9l1 3.3l1 -2.2l1 -0.3l1 1l1 0.9l1 1.4l1 0l1 -0.8l1 1.5l1 -1.2l1 1.2l1 -3.3l1 -0.2l1 3.2l1 -3.1l1 1.5l1 0.2l1 -0.6l1 -0.1l1 2.5l1 -5.6l1 4.7l1 1.8l1 -3.3l1 -0.2l1 1l1 1.4l1 -4.4l1 1.7l1 -0.5l1 0.9l1 -0.7l1 0.6l1 -1.6l1 0.6l1 -1.1l1 -0.1l1 0.7l1 -0.1l1 -1.5l1 3.8l1 -2.5l1 -1.8l1 3.5l1 -2.7l1 1.7l1 -0.7l1 0.3l1 -0.2l1 -1l1 0.8l1 2.7l1 -6l1 3.2l1 0.5l1 -2.1l1 -0.5l1 4.9l1 -3.6l1 3.4l1 -2.1l1 -0.7l1 0.5l1 0.2l1 0.8l1 -1.1l1 -0.5l1 0.1l1 1.6l1 -0.8l1 -2.6l1 0.5l1 1.3l1 -1.3l1 0.3l1 -0.9l1 1l1 0.9l1 0.8l1 -1.5l1 2.9l1 -3.1l1 4.6l1 -3.1l1 -0.8l1 -1.4l1 -3.4l1 3.7l1 0.4l1 2.4l1 -4.7l1 4.6l1 -3.1l1 1.3l1 -4.7l1 3.7l1 -0.8l1 1.4l1 -0.9l1 -1.9l1 2.9l1 -0.5l1 -0.2l1 0.4l1 0l1 -1.8l1 -2.2l1 -0.5l1 3.3l1 -1.5l1 -1.5l1 -1.5l1 -0.1l1 -0.7l1 -1.3l1 -1.4l1 3l1 -4.2l1 -2.8l1 -2.8l1 -1l1 0.3l1 -1.4l1 -2.6l1 -0.4l1 -0.7l1 -0.7l1 4.5l1 0.2l1 4.4l1 -3.2l1 1.6l1 1.5l1 -2.2l1 -2.8l1 -1l1 -0.6l1 -2.7l1 -7.8l1 -7.5l1 -8.3l1 -7.9l1 -7.4l1 -8.2l1 -10.1l1 -13.7l1 -9.8l1 3l1 8.1l1 10.4l1 11.3l1 13.5l1 10.7l1 10.1l1 3.4l1 6.1l1 5l1 3.3l1 0.9l1 3l1 2.1l1 -0.2l1 3.3l1 1.9l1 -1l1 4.4l1 -2.4l1 0.7l1 0.4l1 -0.4l1 1.7l1 -0.6l1 2.3l1 -1.4l1 -0.1l1 -1.1l1 -1.7l1 1.9l1 -1.1l1 2.5l1 -1.3l1 2.3l1 -1.3l1 0.2l1 -0.9l1 0l1 0.6l1 0.4l1 -2.3l1 1.7l1 3l1 -3.8l1 -0.3l1 -0.6l1 -1l1 3.7l1 -1.5l1 0.5l1 2.3l1 1.1l1 -4.8l1 1.7l1 -2.6l1 -2.8l1 -2.4l1 -2.7l1 1l1 -1.2l1 1.1l1 3.6l1 2.2l1 2l1 1.9l1 3.1l1 -1.4l1 -0.5l1 -0.7l1 1l1 -0.7l1 1.9l1 0.5l1 -3l1 3l1 1.1l1 -0.5l1 -1.5l1 3.2l1 -2.7l1 -0.6l1 0.2l1 1.5l1 1.4l1 0.1l1 -1.4l1 -2.1l1 0.5l1 -1.8l1 -1.6l1 -5.3l1 -0.1l1 -0.9l1 -1.3l1 2l1 -0.2l1 1.5l1 3.4l1 4.6l1 1.3l1 -1.5l1 2.3l1 -2.2l1 2.5l1 -1.4l1 -1.4l1 1.7l1 -2.3l1 -0.3l1 -0.8l1 2.3l1 -0.5l1 -0.1l1 -0.5l1 2.6l1 -2.7l1 -0.4l1 2.7l1 0.3l1 -1.5l1 -2.8l1 1.6l1 1.8l1 -0.9l1 1.4l1 -5.3l1 1.5l1 -3l1 2.1l1 -1.8l1 2.1l1 -1.4l1 0.1l1 1.5l1 1.8l1 0.3l1 3.7l1 0.3l1 -1.6l1 -1.9l1 1.2l1 -1.1l1 1.2l1 -4.3l1 -2.1l1 -2.2l1 -1.6l1 3.3l1 2l0.7 4.3l1 0.2l1 -1.2l1 0.6l1 2.8l1 -3.5l1 0.1l1 1l1 -0.6l1 0.4l1 1.4l1 1.6l1 -5.1l1 2.2l1 -0.2l1 -0.6l1 -0.6l1 -0.6l1 1.6l1 -2.2l1 0.7l1 0.5l1 0.7l1 0.2l1 2.2l1 -1l1 0.6l1 -0.1l1 -1.1l1 0.3l1 -0.2l1 1.8l1 -1.2l1 -0.5l1 1.9l1 0.5l1 -3.2l1 4.9l1 -2.3l1 -0.1l1 1.7l1 -1.3l1 -0.9l1 3.9l1 -4.5l1 1.4l1 1.4l1 -2.6l1 1.4l1 0.7l1 2.9l1 -4.6l1 1.3l1 1l1 -0.7l1 -1.8l1 2.3l1 -0.3l1 0.5l1 1l1 -0.1l1 -0.8l1 -0.1l1 -1.9l1 1.3l1 0.5l1 -0.9l1 0.4l1 -1.7l1 2.5l1 -0.1l1 -4.5l1 0.4l1 -1.2l1 2.5l1 -0.3l1 0.6l1 0.6l1 1.3l1 -1l1 2.7l1 -1.7l1 1.8l1 -0.5l1 1.5l1 -1.6l1 1.6l1 -2.7l1 2.2l1 -1.1l1 0.6l1 -0.1l1 1.3l1 -4.1l1 3.3l1 -2.5l1 3.8l1 -4.4l1 1.3l1 -0.9l1 4.7l1 -4.1l1 1.9l1 -0.9l1 -1.7l1 2l1 1.5l1 -1.2l1 1.6l1 -1.9l1 0.6l1 -0.6l1 1.1l1 2.2l1 -2.2l1 -0.2l1 -1.1l1 -0.2l1 3.1l1 -3.6l1 0.3l1 1.2l1 -0.5l1 3.4l1 -6.1l1 3.8l1 0.5l1 -2.5l1 0.7l1 1.5l1 1.7l1 -3.6l1 -0.9l1 3.6l1 0.8l1 -2.6l1 -2.6l1 5.1l1 -2.3l1 1.9l1 -1.7l1 -0.4l1 -0.1l1 2.7l1 0l1 -5l1 1.7l1 3.8l1 -3l1 -1.4l1 1.9l1 -0.1l1 0l1 -0.5l1 0.2l1 -0.2l1 1.1l1 -1.5l1 0.7l1 0.2l1 2.1l1 -1.3l1 -0.7l1 0.9l1 -0.2l1 1l1 -0.8l1 1.8l1 -0.6l1 -1.9l1 -0.5l1 1.8l1 -0.5l1 -0.9l1 -1.9l1 -0.5l1 3.1l1 0.6l1 0l1 -2.9l1 3.3l1 -2.2l1 1.3l1 0.1l1 -1.7l1 0.3l1 -2.1l1 1.6l1 -1.2l1 3.2l1 -0.6l1 1.2l1 -0.7l1 -1.4l1 1.4l1 -1l1 1.4l1 -0.4l1 -1.8l1 1.4l1 0l1 -0.4l1 1.6l1 1.2l1 -2.9l1 0l1 -2.6l1 3l1 -0.5l1 -2.4l1 3.5l1 0.4l1 -1.8l1 0.5l1 -0.8l1 2.4l1 -3.2l1 1.7l1 3.2l1 -2.6l1 0.5l1 -0.8l1 -1.4l1 1.6l1 0.6l1 -2l1 1.9l1 1.3l1 -0.2l1 -3.7l1 0.8l1 -0.8l1 3.7l1 -0.6l1 0.1l1 -2.2l1 -0.4l1 1.8l1 0l1 -1.3l1 1.4l1 0.7l1 -0.5l1 -1.8l1 -1.5l1 2.6l1 0.6l1 -0.6l1 -0.2l1 -0.4l1 2l1 -1l1 0.2l1 -1.5l1 0.5l1 1.1l1 -1.6l1 -0.4l1 1.4l1 2.1l1 -1.4l1 1.8l1 -2.2l1 -0.3l1 -1.5l1 1.2l1 2.8l1 -1.5l1 0.6l1 -0.1l1 -1l1 -0.2l1 0.4l1 0.8l1 -0.3l1 0.1l1 -0.5l1 -1.4l1 0.5l1 -1.4l1 1.8l1 -5.7l1 1.1l1 2.3l1 -4.3l1 -0.6l1 2.9l1 3.4l1 -0.6l1 2l1 -0.2l1 -0.5l1 5.1l1 -4.3l1 -0.8l1 0l1 1.3l1 0l1 0.5l1 -0.8l1 -2.2l1 2.7l1 -1.1l1 0l1 -1.6l1 1.2l1 -0.2l1 1l1 -2l1 2.2l1 0.1l1 -1.8l1 0.7l1 -0.3l1 2.5l1 -4.8l1 3.1l1 -1.9l1 1.8l1 1.8l1 -2.1l1 1.1l1 -1.4l1 4l1 -1.5l1 0.3l1 -3.4l1 0.3l1 3.1l1 -1.8l1 0l1 0.8l1 -2.2l1 2.8l1 -1l1 0.6l1 -1.6l1 1.7l1 -1.7l1 2.4l1 0.2l1 -0.3l1 -0.5l1 0.2l1 -4.7l1 5l1 -1.6l1 0.5l1 -0.5l1 -1.5l1 1.2l1 1.7l1 1l1 -2.8l1 -0.4l1 3.3l1 -3.2l1 4.1l1 -2.8l1 -1.3l1 2.6l1 1l1 -4.3l1 4.2l1 -2.6l1 2.5l1 -2.6l1 -1.7l1 2.9l1 0.7l1 1.6l1 -0.5l1 -1.4l1 -1.3l1 -0.4l1 0.3l1 -0.7l1 0.8l1 -3.2l1 3.8l1 -0.3l1 3.7l1 -2.5l1 -1.8l1 1.5l1 -2.5l1 0.9l1 -1.8l1 4.7l1 -1.2l1 -2.5l1 1.6l1 1.4l1 -0.6l1 -0.1l1 -1.8l1 0.4l1 1l1 1.2l1 -2.5l1 -0.4l1 3.2l1 -2.9l1 2.8l1 -1.1l1 0.9l1 1.2l1 -1.5l1 0.2l1 -2.4" fill="none" stroke="#ff0000" stroke-width="5.6" stroke-linejoin="round" stroke-linecap="round"/><path d="M78.3 660.9l1 0.8l1 0.7l1 0.2l1 0.6l1 -0.5l1 0.2l1 0.5l1 -0.2l1 0.1l1 -0.2l1 0.9l1 -0.8l1 0.7l1 -0.8l1 1l1 -0.8l1 0.7l1 -0.9l1 0.4l1 0.7l1 -0.8l1 0.3l1 -0.2l1 -0.7l1 1l1 0.1l1 -0.8l1 0.2l1 -1.3l1 -1l1 -0.7l1 -1.5l1 -0.2l1 -3.1l1 -0.7l1 -2.1l1 -4.2l1 -3.7l1 -3.4l1 -5.3l1 -6.2l1 -7.9l1 -8.7l1 -7.2l1 -7.2l1 -5l1 -6l1 -4.3l1 -4.6l1 -4.8l1 -2.2l1 -2.8l1 -2.5l1 -2.9l1 -1.1l1 -0.4l1 0.6l1 0.9l1 2.3l1 2.1l1 2.5l1 4.2l1 7.2l1 6.6l1 5.5l1 7.6l1 7.4l1 7.5l1 6.1l1 5.5l1 4.7l1 5.1l1 3.7l1 3.4l1 2.6l1 2.8l1 1.6l1 1.4l1 2.6l1 1l1 1.7l1 1.2l1 1.4l1 0.9l1 0.2l1 1l1 0.3l1 1.9l1 0.2l1 0.9l1 -0.1l1 -0.2l1 1.8l1 -0.2l1 0.4l1 0.4l1 0.6l1 0.3l1 -0.6l1 1.4l1 -0.3l1 0.3l1 1.1l1 -0.1l1 -0.3l1 -0.4l1 0.9l1 0.2l1 -0.1l1 -0.5l1 0.2l1 -0.2l1 0.6l1 0.2l1 0.1l1 -0.7l1 0.4l1 0.1l1 -0.4l1 0.1l1 0.9l1 -0.7l1 0.3l1 -0.6l1 0.2l1 -0.7l1 0.7l1 0.5l1 0.3l1 -0.3l1 -0.2l1 -0.3l1 -0.2l1 0.1l1 0.3l1 -0.5l1 0.7l1 -0.8l1 -0.3l1 0.3l1 -0.3l1 0.2l1 1l1 -0.6l1 0.2l1 0.4l1 0l1 -0.7l1 0.9l1 -0.3l1 0l1 0.3l1 -0.5l1 0.4l1 0.5l1 0.5l1 -0.1l1 0.3l1 0.6l1 0.4l1 0l1 0.4l1 -0.5l1 0.2l1 0.4l1 -0.2l1 0l1 0.9l1 -1.1l1 -1l1 -0.4l1 -0.7l1 -1.8l1 -0.4l1 -1.2l1 0l1 0.9l1 1.7l1 2.7l1 0.5l1 2.6l1 -0.4l1 0.3l1 0.2l1 -0.5l1 -0.6l1 -1.3l1 0.2l1 -1.2l1 0.7l1 -1.8l1 -0.5l1 -1.2l1 -0.3l1 -0.8l1 0.5l1 -0.7l1 0.2l1 -0.4l1 0.4l1 1.2l1 -0.4l1 0.4l1 1.6l1 0.1l1 1l1 1.2l1 0l1 1.1l1 -0.2l1 1l1 -0.1l1 -0.7l1 0.1l1 -0.2l1 0.4l1 0.3l1 -1l1 0.9l1 -0.9l1 0.2l1 -0.4l1 1.6l1 -0.9l1 0.1l1 -0.4l1 0.7l1 -1.3l1 0.8l1 0.9l1 -1.1l1 0.2l1 0.2l1 -0.6l1 0.3l1 0.4l1 -0.4l1 0.1l1 -0.3l1 0.2l1 -0.1l1 0.5l1 -0.3l1 -0.4l1 -0.9l1 1.2l1 0l1 -0.7l1 -0.4l1 0.3l1 0.8l1 -0.8l1 0.2l1 0.2l1 0.4l1 -0.5l1 0l1 -0.2l1 0.8l1 -0.2l1 -0.5l1 -0.6l1 0.3l1 0.5l1 -0.6l1 0.7l1 -0.3l1 0l1 0.1l1 -0.1l1 -0.5l1 0.2l1 1l1 -1.4l1 0.3l1 0.6l1 -0.5l1 -0.3l1 -0.3l1 0.8l1 0.1l1 0.2l1 -0.6l1 0.4l1 -0.9l1 0.5l1 -0.4l1 0.4l1 0.2l1 0.1l1 -0.9l1 0.9l1 -0.7l1 -0.3l1 0.3l1 -0.5l1 0.5l1 0.1l1 -0.2l1 0.2l1 -0.3l1 0l1 -0.6l1 0.6l1 -0.4l1 0.1l1 0.1l1 0.1l1 -0.8l1 0l1 0.4l1 0.3l1 -0.1l1 0.1l1 0.1l1 -0.4l1 -0.3l1 -0.5l1 -0.1l1 0l1 0.1l1 -0.2l1 -0.3l1 -0.3l1 0l1 -0.4l1 -0.3l1 -0.3l1 -0.7l1 -0.6l1 0l1 -1l1 -1.4l1 -1.3l1 -0.2l1 -2.3l1 -0.5l1 -0.2l1 -0.5l1 1l1 1.2l1 0.4l1 0.6l1 0.7l1 0.4l1 0.6l1 -0.4l1 -0.4l1 -0.3l1 -0.6l1 -1.4l1 -1.3l1 -2.8l1 -0.8l1 -2.1l1 -8.3l1 -11l1 -9l1 -8.9l1 -7.5l1 -0.8l1 4.3l1 8.5l1 8l1 6.3l1 9l1 5.9l1 3.5l1 3.4l1 2.9l1 2.6l1 0.7l1 2.1l1 1.2l1 0.1l1 0.7l1 0.4l1 0.1l1 1.2l1 0.5l1 0.6l1 1.1l1 -0.4l1 0.2l1 0.7l1 -0.9l1 0.2l1 0.5l1 -0.1l1 0.6l1 -0.4l1 0.8l1 -0.1l1 -0.4l1 -0.4l1 0.3l1 0l1 -0.8l1 0.5l1 0.1l1 -0.3l1 0.5l1 -0.3l1 -0.9l1 0.3l1 -0.5l1 0.4l1 -0.7l1 0.5l1 -0.3l1 0l1 -0.6l1 -0.7l1 1.1l1 -1.1l1 -0.1l1 -1.5l1 -1.1l1 -0.4l1 -0.7l1 1l1 0l1 2.4l1 1l1 1.3l1 0.7l1 0.2l1 0.6l1 -1.5l1 0.8l1 -0.3l1 0.7l1 -0.7l1 0.4l1 -0.4l1 0.4l1 0.1l1 -0.6l1 0.1l1 -0.7l1 0.6l1 0.2l1 -0.7l1 0.6l1 -1.4l1 0l1 0.1l1 0.2l1 0.1l1 -0.2l1 -0.2l1 -0.2l1 -1.9l1 -2l1 -1.2l1 1.3l1 -0.8l1 2.4l1 2.4l1 1l1 0.3l1 0.4l1 0.3l1 0.2l1 -0.9l1 0.7l1 -0.2l1 0.3l1 0.2l1 -0.7l1 -0.5l1 0.8l1 0.5l1 -0.4l1 -0.2l1 0.9l1 -1.4l1 0.8l1 -0.6l1 0.2l1 0l1 0.6l1 -1l1 -0.2l1 -1.2l1 -0.2l1 -1.5l1 -0.6l1 -1.2l1 0.2l1 0.9l1 0.1l1 1.2l1 0.8l1 0.6l1 0.2l1 1.5l1 -0.1l1 0.1l1 -1.7l1 -0.5l1 -1l1 -0.3l1 0l1 -0.8l1 -0.7l1 -0.1l1 0.3l1 -0.3l1 0.6l1 0.4l1 -0.4l1 1.4l1 1.5l1 0.3l1 1.1l0.7 0.7l1 0l1 0.7l1 -0.5l1 -0.3l1 -0.8l1 1l1 -0.5l1 0l1 1.1l1 -0.1l1 -1.1l1 1.1l1 -0.3l1 -0.7l1 0.4l1 -1.1l1 0.2l1 -0.1l1 0.4l1 1l1 -0.7l1 0.3l1 0.2l1 0.5l1 -0.2l1 0.6l1 -0.6l1 -0.3l1 0.4l1 0.2l1 -0.4l1 0.5l1 0.7l1 -1l1 0.3l1 0.6l1 -0.8l1 -0.1l1 -0.1l1 0.7l1 0l1 -0.2l1 0.1l1 0.5l1 -0.2l1 -0.8l1 0.5l1 0.1l1 0.3l1 -0.4l1 -0.2l1 0.1l1 -0.5l1 0.7l1 -0.3l1 0.4l1 -0.7l1 0.1l1 -0.5l1 -0.2l1 0.4l1 -0.7l1 0.1l1 -0.7l1 0.4l1 -0.6l1 0.6l1 0.3l1 0.7l1 0.2l1 0.1l1 0.6l1 0l1 0.3l1 0.2l1 -0.3l1 0l1 0.3l1 -0.3l1 0.3l1 0.3l1 0l1 -0.5l1 -0.4l1 0.6l1 0l1 0.5l1 -0.6l1 0.1l1 0.4l1 -0.5l1 0.2l1 0.7l1 0l1 -0.4l1 -0.1l1 -0.5l1 0.6l1 -0.2l1 0.1l1 -0.3l1 0.2l1 -0.1l1 0.2l1 0.5l1 -0.4l1 -0.8l1 0.2l1 -0.2l1 0.3l1 0.6l1 -0.1l1 -0.4l1 0.3l1 -0.4l1 -0.2l1 0l1 0.2l1 0.9l1 -1.1l1 1.1l1 0l1 -0.6l1 0.1l1 -0.3l1 0.3l1 0.2l1 -0.2l1 0.4l1 0.1l1 -0.4l1 0l1 -0.1l1 0.1l1 -0.5l1 0.6l1 -0.1l1 -0.4l1 1.2l1 -1.3l1 0.1l1 0.4l1 -0.8l1 0.4l1 -0.3l1 0.3l1 0.3l1 0.2l1 0.3l1 -0.1l1 0.1l1 -0.2l1 -0.4l1 0.6l1 -0.6l1 -0.1l1 0.9l1 -0.3l1 -0.2l1 0.2l1 0l1 -0.9l1 0.6l1 -0.5l1 0.5l1 -0.3l1 0.9l1 -0.4l1 -0.5l1 0.3l1 -0.5l1 0.5l1 0.2l1 -0.1l1 -0.8l1 0.6l1 0.3l1 0l1 0.3l1 -1l1 0.8l1 -0.5l1 0.3l1 0.1l1 0.1l1 -0.5l1 0.3l1 -0.5l1 -0.1l1 0.8l1 -0.2l1 -0.7l1 0.3l1 0.4l1 0.6l1 -0.2l1 -0.1l1 -1l1 0.7l1 0.2l1 0l1 0l1 -0.3l1 0.8l1 -0.1l1 -0.6l1 -0.4l1 1.3l1 -1.1l1 0.7l1 0.3l1 -1.1l1 0.5l1 -0.3l1 0.4l1 -0.1l1 0.6l1 -0.5l1 -0.2l1 0.4l1 -0.5l1 -0.1l1 1.1l1 -1.2l1 0.1l1 0.2l1 -0.4l1 -0.4l1 1.2l1 -0.7l1 0.1l1 0.1l1 -0.3l1 0l1 0.5l1 0.9l1 -0.7l1 0l1 -0.9l1 0.6l1 -0.4l1 0.8l1 -0.4l1 0.1l1 -0.1l1 -0.2l1 -0.3l1 0.8l1 -0.8l1 0.1l1 0.4l1 -0.2l1 0.4l1 0.3l1 -0.3l1 0l1 -0.1l1 0.3l1 -1l1 0.8l1 -0.5l1 -0.1l1 0.5l1 -0.1l1 0.4l1 0.2l1 -1.4l1 0.9l1 0.8l1 -0.4l1 0.1l1 -0.7l1 -1l1 -0.5l1 -0.3l1 -1l1 -1.7l1 -0.1l1 0.5l1 0.2l1 1.7l1 1.8l1 0.9l1 -0.5l1 0.9l1 -0.9l1 0l1 -0.6l1 1.3l1 -0.6l1 1.1l1 -0.8l1 0l1 -0.8l1 1.3l1 -0.7l1 0.1l1 -0.9l1 1.3l1 0l1 -0.6l1 0.3l1 0.1l1 0.2l1 -0.3l1 0.6l1 -0.7l1 -0.2l1 0.1l1 -0.9l1 0.7l1 0.8l1 -0.3l1 -0.5l1 0.5l1 -0.9l1 0.7l1 0.3l1 0.1l1 -0.6l1 0.7l1 0.3l1 -0.9l1 0.5l1 -0.9l1 -0.2l1 1.1l1 -0.3l1 0.1l1 -0.3l1 0.1l1 0.5l1 0.3l1 -0.7l1 -0.6l1 1.2l1 -0.3l1 0l1 -0.2l1 0.9l1 -0.9l1 0.2l1 -1l1 0.5l1 0l1 0.3l1 0.1l1 -0.4l1 1l1 -1.1l1 0.2l1 0.3l1 -0.6l1 0.7l1 0.1l1 -0.4l1 0.9l1 -0.8l1 0.1l1 -0.5l1 -0.2l1 0.4l1 0.1l1 0l1 0.4l1 -1.2l1 0.5l1 -0.3l1 1.3l1 -0.8l1 0.1l1 -0.3l1 0.8l1 -0.5l1 0.3l1 -0.9l1 1.2l1 -0.3l1 0.1l1 0.3l1 -0.6l1 0l1 0.4l1 -0.1l1 -0.3l1 0.1l1 -0.2l1 0.5l1 0.1l1 -0.4l1 0.8l1 -1.4l1 0.5l1 0.8l1 -0.8l1 -0.5l1 1.2l1 -0.3l1 -0.7l1 0.8l1 -0.8l1 -0.1l1 0.5l1 -0.1l1 -0.3l1 0.3l1 -0.2l1 0.4l1 0" fill="none" stroke="#000000" stroke-width="5.6" stroke-linejoin="round" stroke-linecap="round"/><rect x="77.6" y="32" width="929" height="710.7" fill="none" stroke="#000" stroke-width="5.6"/><line x1="77.6" y1="742.7" x2="77.6" y2="751.5" stroke="#000" stroke-width="5.6" stroke-linecap="butt"/><line x1="180.8" y1="742.7" x2="180.8" y2="758.5" stroke="#000" stroke-width="5.6" stroke-linecap="butt"/><line x1="284" y1="742.7" x2="284" y2="751.5" stroke="#000" stroke-width="5.6" stroke-linecap="butt"/><line x1="387.3" y1="742.7" x2="387.3" y2="758.5" stroke="#000" stroke-width="5.6" stroke-linecap="butt"/><line x1="490.5" y1="742.7" x2="490.5" y2="751.5" stroke="#000" stroke-width="5.6" stroke-linecap="butt"/><line x1="593.7" y1="742.7" x2="593.7" y2="758.5" stroke="#000" stroke-width="5.6" stroke-linecap="butt"/><line x1="696.9" y1="742.7" x2="696.9" y2="751.5" stroke="#000" stroke-width="5.6" stroke-linecap="butt"/><line x1="800.2" y1="742.7" x2="800.2" y2="758.5" stroke="#000" stroke-width="5.6" stroke-linecap="butt"/><line x1="903.4" y1="742.7" x2="903.4" y2="751.5" stroke="#000" stroke-width="5.6" stroke-linecap="butt"/><line x1="1006.6" y1="742.7" x2="1006.6" y2="758.5" stroke="#000" stroke-width="5.6" stroke-linecap="butt"/><text x="180.8" y="796.5" font-family="'Liberation Sans', Arial, sans-serif" font-size="40" font-weight="bold" fill="#000" text-anchor="middle">10</text><text x="387.3" y="796.5" font-family="'Liberation Sans', Arial, sans-serif" font-size="40" font-weight="bold" fill="#000" text-anchor="middle">20</text><text x="593.7" y="796.5" font-family="'Liberation Sans', Arial, sans-serif" font-size="40" font-weight="bold" fill="#000" text-anchor="middle">30</text><text x="800.2" y="796.5" font-family="'Liberation Sans', Arial, sans-serif" font-size="40" font-weight="bold" fill="#000" text-anchor="middle">40</text><text x="1006.6" y="796.5" font-family="'Liberation Sans', Arial, sans-serif" font-size="40" font-weight="bold" fill="#000" text-anchor="middle">50</text><text x="451" y="834" font-family="'Liberation Serif', 'Times New Roman', serif" font-size="41" font-weight="bold" fill="#000" text-anchor="start" textLength="150" lengthAdjust="spacingAndGlyphs">2 Theta/&#176;</text><text transform="translate(42.5 525.3) rotate(-90)" x="0" y="0" font-family="'Liberation Serif', 'Times New Roman', serif" font-size="40" font-weight="bold" textLength="161" lengthAdjust="spacingAndGlyphs">Intensity</text><text transform="translate(42.5 358.7) rotate(-90)" x="0" y="0" font-family="'Liberation Serif', 'Times New Roman', serif" font-size="40" font-weight="bold" textLength="83" lengthAdjust="spacingAndGlyphs">(a.u.)</text><text x="929.5" y="85.5" font-family="'Liberation Sans', Arial, sans-serif" font-size="58" font-weight="bold" fill="#000" text-anchor="start" textLength="68" lengthAdjust="spacingAndGlyphs">(a)</text><text x="713.9" y="192.1" font-family="'Liberation Sans', Arial, sans-serif" font-size="38" font-weight="bold" fill="#008000" text-anchor="start" textLength="183" lengthAdjust="spacingAndGlyphs">Ti-Beta-60</text><text x="716.2" y="288.4" font-family="'Liberation Sans', Arial, sans-serif" font-size="38" font-weight="bold" fill="#ff00ff" text-anchor="start" textLength="179.5" lengthAdjust="spacingAndGlyphs">Ti-Beta-80</text><text x="716.2" y="404.9" font-family="'Liberation Sans', Arial, sans-serif" font-size="38" font-weight="bold" fill="#0000ff" text-anchor="start" textLength="203.3" lengthAdjust="spacingAndGlyphs">Ti-Beta-100</text><text x="729.3" y="536" font-family="'Liberation Sans', Arial, sans-serif" font-size="39" font-weight="bold" fill="#ff0000" text-anchor="start" textLength="130.5" lengthAdjust="spacingAndGlyphs">Si-Beta</text><text x="744.7" y="663.7" font-family="'Liberation Sans', Arial, sans-serif" font-size="39" font-weight="bold" fill="#000" text-anchor="start" textLength="77.7" lengthAdjust="spacingAndGlyphs">Beta</text><line x1="445.5" y1="98.2" x2="466.9" y2="80" stroke="#000" stroke-width="1.6" stroke-linecap="butt"/><text x="430" y="71.8" font-family="'Liberation Sans', Arial, sans-serif" font-size="24" font-weight="bold" fill="#000" text-anchor="start" textLength="78.5" lengthAdjust="spacingAndGlyphs">(22.58)</text><line x1="446.7" y1="232.5" x2="465.7" y2="232.5" stroke="#000" stroke-width="1.6" stroke-linecap="butt"/><text x="466.9" y="241.7" font-family="'Liberation Sans', Arial, sans-serif" font-size="24" font-weight="bold" fill="#000" text-anchor="start" textLength="78.4" lengthAdjust="spacingAndGlyphs">(22.58)</text><line x1="445.5" y1="320.4" x2="464.5" y2="324" stroke="#000" stroke-width="1.6" stroke-linecap="butt"/><text x="466.9" y="333.2" font-family="'Liberation Sans', Arial, sans-serif" font-size="24" font-weight="bold" fill="#000" text-anchor="start" textLength="78.4" lengthAdjust="spacingAndGlyphs">(22.52)</text><line x1="451.4" y1="440" x2="467.2" y2="441.6" stroke="#000" stroke-width="1.6" stroke-linecap="butt"/><text x="468" y="450.8" font-family="'Liberation Sans', Arial, sans-serif" font-size="24" font-weight="bold" fill="#000" text-anchor="start" textLength="79" lengthAdjust="spacingAndGlyphs">(22.76)</text><line x1="445.6" y1="608" x2="479.7" y2="588" stroke="#000" stroke-width="1.6" stroke-linecap="butt"/><text x="480.6" y="595.5" font-family="'Liberation Sans', Arial, sans-serif" font-size="24" font-weight="bold" fill="#000" text-anchor="start" textLength="78.1" lengthAdjust="spacingAndGlyphs">(22.54)</text><path d="M1178.4 410.4l1 0l1 0l1 0l1 0l1 0l1 0l1 0l1 0l1 0l1 0l1 0l1 0l1 0l1 0l1 0l1 0l1 0l1 0l1 0l1 0l1 0l1 0l1 0l1 0l1 0l1 0l1 0l1 0l1 0l1 0l1 0l1 0l1 0l1 0l1 0l1 0l1 0l1 0l1 0l1 0l1 0l1 1.1l1 -1.9l1 -1.4l1 0l1 1.8l1 2.8l1 -1l1 -2.4l1 2.6l1 -3.4l1 3.6l1 -2.2l1 1.9l1 -0.2l1 -1.4l1 1l1 -2.2l1 1.7l1 1.9l1 4.9l1 -5.4l1 -0.9l1 -1.8l1 3.4l1 -4.3l1 1.4l1 1.9l1 -2.4l1 4.4l1 -0.7l1 -2.6l1 0l1 -1.2l1 -0.1l1 2.9l1 0.3l1 -0.5l1 -0.2l1 -1.4l1 1.3l1 -3.1l1 2.2l1 2.2l1 -0.5l1 -3.1l1 -0.1l1 2.5l1 0.4l1 -5.6l1 1.4l1 0.7l1 1.3l1 -3.7l1 2l1 -1.8l1 3.9l1 -3.5l1 -1.3l1 -0.7l1 1.8l1 -1l1 -3.3l1 1.6l1 -3.1l1 0.4l1 -1.5l1 -0.7l1 0.3l1 -1.2l1 1.6l1 -0.3l1 -2.6l1 -2.3l1 2l1 -5.6l1 2.1l1 -1.4l1 -1.4l1 -1.6l1 -1.7l1 -1.8l1 -1.6l1 -2.3l1 -3.5l1 -5.4l1 -30.4l1 -25l1 -22l1 -20.3l1 -17.6l1 -23.2l1 -41.2l1 -30.6l1 -22.7l1 -16.9l1 -13.1l1 -3.9l1 1.5l1 3.1l1 4.4l1 5.1l1 5.9l1 10.4l1 12l1 9.3l1 5l1 3.8l1 3.2l1 2.6l1 2.5l1 2.5l1 2.7l1 3.2l1 4l1 4.9l1 5.4l1 5.5l1 5l1 4.6l1 4.9l1 4.7l1 4.3l1 3.5l1 2.3l1 1.2l1 0.9l1 0.6l1 0.5l1 0.5l1 0.5l1 -2.5l1 5.1l1 1.4l1 3.5l1 1.8l1 1.7l1 3.1l1 1.8l1 -2.1l1 0.1l1 -1.1l1 0.4l1 3.2l1 -0.6l1 -2.6l1 0.1l1 0.8l1 2.3l1 -1.7l1 3l1 -1.7l1 2.8l1 3.7l1 1.2l1 -3.2l1 0.8l1 2.6l1 -1.8l1 -0.1l1 1.8l1 -0.4l1 1.5l1 -0.4l1 -2.2l1 0.8l1 0.2l1 -2.1l1 0.6l1 3.2l1 -4.1l1 4.1l1 -1.1l1 -0.7l1 1.1l1 -0.1l1 1.2l1 -2.6l1 0.3l1 -0.1l1 3.5l1 -1.5l1 -3.1l1 1l1 -0.6l1 1.2l1 0.3l1 3.3l1 -6.6l1 4.6l1 -1l1 -1.8l1 0.9l1 -0.6l1 0.9l1 1.6l1 -4l1 4.7l1 -2.5l1 3.3l1 -1.5l1 1.7l1 -0.7l1 1.2l1 -1.2l1 -1l1 1.8l1 0.5l1 0.5l1 0.7l1 0.7l1 0.7l1 0.8l1 0.9l1 0.9l1 0.9l1 1l1 1l1 0.9l1 1l1 1l1 1l1 1.1l1 1.1l1 1.2l1 1.2l1 1.2l1 1.2l1 1.3l1 1.3l1 1.4l1 1.4l1 1.4l1 1.6l1 1.7l1 1.7l1 1.7l1 1.8l1 1.8l1 1.7l1 1.8l1 1.7l1 1.6l1 1.6l1 1.4l1 1.5l1 1.4l1 1.4l1 1.4l1 1.3l1 1.4l1 1.3l1 1.3l1 1.3l1 1.3l1 1.3l1 1.3l1 1.3l1 1.3l1 1.3l1 1.2l1 1.3l1 1.4l1 1.3l1 1.3l1 1.4l1 1.3l1 1.4l1 1.3l1 1.4l1 1.3l1 1.4l1 1.3l1 1.4l1 1.3l1 1.3l1 1.3l1 1.3l1 1.2l1 1.3l1 1.2l1 1.2l1 1.1l1 1.2l1 1.1l1 1.1l1 1.1l1 1l1 1.1l1 1l1 1.1l1 1l1 1l1 1l1 0.9l1 1l1 0.9l1 0.9l1 0.9l1 0.9l1 0.9l1 0.8l1 0.9l1 0.8l1 0.9l1 0.8l1 0.8l1 0.8l1 0.8l1 0.7l1 0.8l1 0.8l1 0.7l1 0.8l1 0.7l1 0.7l1 0.7l1 0.7l1 0.7l1 0.7l1 0.7l1 0.6l1 0.7l1 0.6l1 0.7l1 0.6l1 0.6l1 0.7l1 0.6l1 0.6l1 0.6l1 0.6l1 0.7l1 0.6l1 0.6l1 0.6l1 0.6l1 0.6l1 0.5l1 0.6l1 0.6l1 0.5l1 0.6l1 0.5l1 0.5l1 0.5l1 0.5l1 0.5l1 0.5l1 0.4l1 0.5l1 0.4l1 0.4l1 0.4l1 0.3l1 0.4l1 0.3l1 0.3l1 0.3l1 0.3l1 0.3l1 0.3l1 0.3l1 0.3l1 0.2l1 0.3l1 0.3l1 0.2l1 0.3l1 0.2l1 0.2l1 0.3l1 0.2l1 0.2l1 0.2l1 0.2l1 0.2l1 0.2l1 0.2l1 0.2l1 0.2l1 0.2l1 0.2l1 0.2l1 0.2l1 0.1l1 0.2l1 0.2l1 0.1l1 0.2l1 0.2l1 0.1l1 0.2l1 0.1l1 0.2l1 0.1l1 0.1l1 0.2l1 0.1l1 0.2l1 0.1l1 0.1l1 0.1l1 0.2l1 0.1l1 0.1l1 0.1l1 0.2l1 0.1l1 0.1l1 0.1l1 0.1l1 0.2l1 0.1l1 0.1l1 0.1l1 0.1l1 0.1l1 0.1l1 0.2l1 0.1l1 0.1l1 0.1l1 0.2l1 0.1l1 0.1l1 0.2l1 0.1l1 0.1l1 0.1l1 0.2l1 0.1l1 0.1l1 0.1l1 0l1 0.1l1 0l1 0.1l1 0l1 0l1 0l1 0l1 0l1 0l1 0l1 0l1 0l1 0l1 0l1 0l1 0l1 0l1 0l1 0l1 0l1 0l1 0l1 0l1 0l1 0l1 0l1 0l1 0l1 0l1 0l1 0l1 0l1 0l1 0l1 0l1 0l1 0l1 0l1 0l1 0l1 0l1 0l1 -0.1l1 -0.2l1 -0.3l1 -0.4l1 -0.4l1 -0.5l1 -0.5l1 -0.6l1 -0.5l1 -0.5l1 -0.4l1 -0.4l1 -0.2l1 -0.2l1 0l1 0l1 0l1 0l1 0l1 0l1 0l1 0l1 0l1 -0.3l1 -0.6l1 -0.8l1 -0.9l1 -1l1 -0.9l1 -0.8l1 -0.6l1 -0.3l1 0.1l1 0.6l1 0.8l1 1.1l1 1.1l1 1.3l1 1.1l1 1.1l1 0.8l1 0.5l1 0.4l1 0.5l1 0.4l1 0.4l1 0.3l1 0.3l1 0.3l1 0.1l1 0.2l1 0l1 0l1 -0.1l1 -0.1l1 -0.2l1 -0.2l1 -0.2l1 -0.2l1 -0.2l1 -0.2l1 -0.2l1 -0.2l1 -0.1l1 -0.1l1 -0.1l1 0l1 0.2l1 0.3l1 0.5l1 0.5l1 0.6l1 0.7l1 0.7l1 0.7l1 0.7l1 0.7l1 0.5l1 0.5l1 0.4l1 0.3l1 0.1l1 0.2l1 0.1l1 0.1l1 0.2l1 0.1l1 0.1l1 0.1l1 0.1l1 0l1 0.1l1 0.1l1 0.1l1 0l1 0.1l1 0.1l1 0l1 0.1l1 0.1l1 0l1 0.1l1 0.1l1 0.1l1 0l1 0.1l1 0.1l1 0.1l1 0l1 0.1l1 0.1l1 0.1l1 0.1l1 0l1 0.1l1 0.1l1 0.1l1 0l1 0.1l1 0.1l1 0.1l1 0l1 0.1l1 0.1l1 0.1l1 0l1 0.1l1 0.1l1 0l1 0.1l1 0.1l1 0l1 0.1l1 0.1l1 0l1 0.1l1 0.1l1 0l1 0.1l1 0l1 0.1l1 0.1l1 0l1 0.1l1 0l1 0.1l1 0l1 0.1l1 0l1 0.1l1 0l1 0.1l1 0l1 0.1l1 0l1 0.1l1 0l1 0.1l1 0l1 0.1l1 0l1 0.1l1 0l1 0.1l1 0l1 0.1l1 0l1 0l1 0.1l1 0l1 0.1l1 0l1 0.1l1 0l1 0.1l1 0l1 0.1l1 0l1 0l1 0.1l1 0l1 0.1l1 0l1 0.1l1 0l1 0.1l1 0l1 0.1l1 0l1 0.1l1 0l1 0.1l1 0.1l1 0l1 0.1l1 0l1 0.1l1 0l1 0.1l1 0.1l1 0l1 0.1l1 0l1 0.1l1 0l1 0.1l1 0.1l1 0l1 0.1l1 0l1 0.1l1 0.1l1 0l1 0.1l1 0l1 0.1l1 0l1 0.1l1 0l1 0.1l1 0.1l1 0l1 0.1l1 0l1 0l1 0.1l1 0l1 0.1l1 0l1 0.1l1 0l1 0l1 0.1l1 0l1 0l1 0.1l1 0l1 0.1l1 0l1 0l1 0.1l1 0l1 0l1 0.1l1 0l1 0.1l1 0l1 0l1 0.1l1 0l1 0l1 0.1l1 0l1 0.1l1 0l1 0l1 0.1l1 0l1 0l1 0l1 0.1l1 0l1 0l1 0.1l1 0l1 0l1 0l1 0.1l1 0l1 0l1 0l1 0.1l1 0l1 0l1 0l1 0l1 0l1 0.1l1 0l1 0l1 0l1 0l1 0l1 0l1 0l1 0l1 0l1 0l1 0l1 0l1 0l1 0l1 0l1 0l1 0l1 0l1 0l1 0l1 0l1 0l1 0l1 0l1 0l1 0l1 0l1 0l1 0l1 0l1 0l1 -1l1 -2.4l1 -3.2l1 -3.7l1 -3.5l1 -2.9l1 -2.7l1 -3l1 -2.9l1 -2.7l1 -2.2l1 -1.4l1 -0.4l1 1.4l1 2.7l1 3.3l1 3.1l1 2.4l1 0.8l1 -0.4l1 -0.8l1 -1l1 -1.2l1 -1l1 -0.7l1 -0.2l1 0.4l1 0.9l1 1.2l1 1.5l1 1.6l1 1.7l1 1.6l1 1.5l1 1.1l1 1l1 1l1 1.1l1 1l1 1.1l1 1l1 0.9l1 1l1 0.8l1 0.8l1 0.7l1 0.6l1 0.5l1 0.3l1 0.3l1 0.1l1 0.1l1 0.1l1 0.1l1 0.1l1 0.1l1 0.1l1 0.1l1 0l1 0.1l1 0.1l1 0l1 0.1l1 0l1 0.1l1 0l1 0.1l1 0l1 0.1l1 0l1 0l1 0.1l1 0l1 0.1l1 0l1 0.1l1 0l1 0l1 0.1l1 0l1 0.1l1 0l1 0.1l1 0l1 0l1 0.1l1 0l1 0l1 0.1l1 0l1 0l1 0l1 0.1l1 0l0.6 0" fill="none" stroke="#ff0000" stroke-width="4.8" stroke-linejoin="round" stroke-linecap="round"/><path d="M1180.3 603.4l1 0l1 0l1 0l1 0l1 -0.1l1 0l1 0l1 0l1 -0.1l1 0l1 -0.1l1 0l1 0l1 -0.1l1 0l1 -0.1l1 -0.1l1 0l1 -0.1l1 -0.1l1 0l1 -0.1l1 -0.1l1 0l1 -0.1l1 -0.1l1 -0.1l1 -0.1l1 0l1 -0.1l1 -0.1l1 -0.1l1 -0.1l1 -0.1l1 0l1 -0.1l1 -0.1l1 -0.1l1 -0.1l1 -0.1l1 -0.1l1 -0.2l1 -0.1l1 -0.2l1 -0.1l1 -0.2l1 -0.2l1 -0.2l1 -0.1l1 -0.2l1 -0.2l1 -0.2l1 -0.2l1 -0.2l1 -0.2l1 -0.2l1 -0.2l1 -0.2l1 -0.2l1 -0.2l1 -0.2l1 -0.2l1 -0.2l1 -0.1l1 -0.2l1 -0.2l1 -0.1l1 -0.2l1 -0.1l1 -0.2l1 -0.1l1 -0.1l1 -0.1l1 -0.1l1 -0.1l1 -0.1l1 -0.1l1 -0.1l1 -0.1l1 -0.1l1 -0.1l1 -0.1l1 -0.1l1 -0.1l1 -0.1l1 -0.1l1 -0.1l1 -0.1l1 -0.1l1 -0.1l1 -0.1l1 -0.1l1 -0.2l1 -0.1l1 -0.2l1 -0.1l1 -0.2l1 -0.2l1 -0.1l1 -0.3l1 -0.2l1 -0.2l1 -0.3l1 -0.3l1 -0.4l1 -0.3l1 -0.4l1 -0.5l1 -0.5l1 -0.5l1 -0.7l1 -0.8l1 -1l1 -1l1 -1.2l1 -1.2l1 -1.5l1 -1.5l1 -1.7l1 -1.8l1 -2.1l1 -2.8l1 -3.6l1 -4.8l1 -6.6l1 -18l1 -26.6l1 -42.1l1 -39.2l1 -27.6l1 -23.5l1 -23.1l1 -20.7l1 -12l1 -8l1 -2.9l1 4.4l1 9.2l1 10.6l1 9.6l1 10.7l1 10.7l1 8.7l1 6.4l1 5.6l1 5l1 4.6l1 4.1l1 3.7l1 3.4l1 3.1l1 2.9l1 2.7l1 2.5l1 2.3l1 2.3l1 2.1l1 2.2l1 2.2l1 2.3l1 2.4l1 2.6l1 2.8l1 2.9l1 3.2l1 3.4l1 3.4l1 3.5l1 3.6l1 3.4l1 3.5l1 3.2l1 3.1l1 2.9l1 2.6l1 2.4l1 2.1l1 2.1l1 2.1l1 1.9l1 1.9l1 1.8l1 1.8l1 1.6l1 1.7l1 1.5l1 1.5l1 1.4l1 1.4l1 1.4l1 1.2l1 1.2l1 1.2l1 1.1l1 1l1 1l1 1l1 1l1 0.9l1 0.9l1 0.9l1 0.9l1 1l1 0.9l1 0.9l1 1l1 0.9l1 0.9l1 0.9l1 0.9l1 0.9l1 0.9l1 0.8l1 0.9l1 0.9l1 0.9l1 0.8l1 0.9l1 0.9l1 0.8l1 0.9l1 0.9l1 0.9l1 0.8l1 0.9l1 0.9l1 0.9l1 0.9l1 0.8l1 0.9l1 0.9l1 0.9l1 0.9l1 0.9l1 0.8l1 0.9l1 0.9l1 0.9l1 0.8l1 0.9l1 0.9l1 0.9l1 0.8l1 0.9l1 0.9l1 0.8l1 0.9l1 0.9l1 0.8l1 0.9l1 0.8l1 0.9l1 0.8l1 0.8l1 0.9l1 0.8l1 0.8l1 0.8l1 0.9l1 0.8l1 0.8l1 0.8l1 0.8l1 0.8l1 0.8l1 0.8l1 0.8l1 0.8l1 0.8l1 0.7l1 0.8l1 0.8l1 0.8l1 0.8l1 0.8l1 0.8l1 0.7l1 0.8l1 0.8l1 0.8l1 0.8l1 0.8l1 0.8l1 0.8l1 0.8l1 0.8l1 0.8l1 0.8l1 0.8l1 0.8l1 0.8l1 0.7l1 0.8l1 0.8l1 0.7l1 0.7l1 0.7l1 0.8l1 0.7l1 0.8l1 0.7l1 0.7l1 0.8l1 0.7l1 0.8l1 0.7l1 0.7l1 0.7l1 0.8l1 0.7l1 0.7l1 0.7l1 0.6l1 0.7l1 0.7l1 0.6l1 0.6l1 0.6l1 0.6l1 0.6l1 0.6l1 0.5l1 0.5l1 0.5l1 0.5l1 0.5l1 0.4l1 0.5l1 0.4l1 0.4l1 0.4l1 0.5l1 0.4l1 0.4l1 0.4l1 0.4l1 0.3l1 0.4l1 0.4l1 0.4l1 0.3l1 0.4l1 0.4l1 0.3l1 0.4l1 0.3l1 0.3l1 0.4l1 0.3l1 0.3l1 0.3l1 0.4l1 0.3l1 0.3l1 0.3l1 0.3l1 0.3l1 0.3l1 0.3l1 0.3l1 0.3l1 0.3l1 0.3l1 0.2l1 0.3l1 0.3l1 0.3l1 0.3l1 0.2l1 0.3l1 0.3l1 0.3l1 0.2l1 0.3l1 0.3l1 0.2l1 0.3l1 0.3l1 0.2l1 0.3l1 0.3l1 0.2l1 0.3l1 0.3l1 0.2l1 0.3l1 0.2l1 0.3l1 0.3l1 0.2l1 0.3l1 0.2l1 0.3l1 0.2l1 0.3l1 0.3l1 0.2l1 0.3l1 0.2l1 0.3l1 0.2l1 0.3l1 0.2l1 0.2l1 0.3l1 0.2l1 0.3l1 0.2l1 0.2l1 0.3l1 0.2l1 0.3l1 0.2l1 0.2l1 0.3l1 0.2l1 0.2l1 0.2l1 0.3l1 0.2l1 0.2l1 0.2l1 0.3l1 0.2l1 0.2l1 0.2l1 0.2l1 0.3l1 0.2l1 0.2l1 0.2l1 0.2l1 0.2l1 0.2l1 0.2l1 0.2l1 0.2l1 0.2l1 0.2l1 0.2l1 0.2l1 0.2l1 0.2l1 0.2l1 0.2l1 0.2l1 0.2l1 0.2l1 0.2l1 0.1l1 0.2l1 0.2l1 0.2l1 0.1l1 0.2l1 0.2l1 0.2l1 0.1l1 0.2l1 0.2l1 0.1l1 0.2l1 0.1l1 0.2l1 0.2l1 0.1l1 0.2l1 0.1l1 0.2l1 0.1l1 0.2l1 0.1l1 0.1l1 0.2l1 0.1l1 0.2l1 0.1l1 0.1l1 0.2l1 0.1l1 0.1l1 0.1l1 0.2l1 0.1l1 0.1l1 0.1l1 0.2l1 0.1l1 0.1l1 0.1l1 0.1l1 0.2l1 0.1l1 0.1l1 0.1l1 0.1l1 0.1l1 0.1l1 0.1l1 0.2l1 0.1l1 0.1l1 0.1l1 0.1l1 0.1l1 0.1l1 0.1l1 0.1l1 0.1l1 0.1l1 0.1l1 0.1l1 0.1l1 0.1l1 0.1l1 0.1l1 0.1l1 0.1l1 0.1l1 0.1l1 0.1l1 0.1l1 0.2l1 0.1l1 0.1l1 0.1l1 0.1l1 0.1l1 0.1l1 0.1l1 0.1l1 0.1l1 0.1l1 0.1l1 0.1l1 0.1l1 0.1l1 0.1l1 0.2l1 0.1l1 0.1l1 0.1l1 0.1l1 0.1l1 0.1l1 0.2l1 0.1l1 0.1l1 0.1l1 0.1l1 0.2l1 0.1l1 0.1l1 0.1l1 0.2l1 0.1l1 0.1l1 0.2l1 0.1l1 0.1l1 0.2l1 0.1l1 0.1l1 0.2l1 0.1l1 0.1l1 0.2l1 0.1l1 0.2l1 0.1l1 0.2l1 0.1l1 0.1l1 0.2l1 0.1l1 0.2l1 0.1l1 0.2l1 0.1l1 0.2l1 0.1l1 0.2l1 0.1l1 0.1l1 0.2l1 0.1l1 0.2l1 0.1l1 0.2l1 0.2l1 0.1l1 0.2l1 0.1l1 0.2l1 0.1l1 0.2l1 0.1l1 0.2l1 0.1l1 0.2l1 0.1l1 0.2l1 0.1l1 0.2l1 0.2l1 0.1l1 0.2l1 0.1l1 0.2l1 0.1l1 0.2l1 0.2l1 0.1l1 0.2l1 0.1l1 0.2l1 0.1l1 0.2l1 0.1l1 0.2l1 0.2l1 0.1l1 0.2l1 0.1l1 0.2l1 0.1l1 0.2l1 0.1l1 0.2l1 0.2l1 0.1l1 0.2l1 0.1l1 0.2l1 0.1l1 0.2l1 0.1l1 0.2l1 0.1l1 0.2l1 0.1l1 0.2l1 0.1l1 0.2l1 0.1l1 0.2l1 0.1l1 0.2l1 0.1l1 0.2l1 0.1l1 0.2l1 0.1l1 0.2l1 0.1l1 0.2l1 0.1l1 0.2l1 0.1l1 0.2l1 0.1l1 0.2l1 0.1l1 0.2l1 0.1l1 0.2l1 0.1l1 0.2l1 0.1l1 0.2l1 0.1l1 0.2l1 0.1l1 0.2l1 0.1l1 0.2l1 0.1l1 0.2l1 0.1l1 0.2l1 0.1l1 0.2l1 0.1l1 0.2l1 0.1l1 0.2l1 0.1l1 0.2l1 0.1l1 0.2l1 0.1l1 0.2l1 0.1l1 0.2l1 0.1l1 0.2l1 0.1l1 0.2l1 0.1l1 0.2l1 0.1l1 0.2l1 0.1l1 0.2l1 0.1l1 0.2l1 0.1l1 0.2l1 0.1l1 0.2l1 0.1l1 0.2l1 0.1l1 0.2l1 0.1l1 0.2l1 0.1l1 0.2l1 0.1l1 0.2l1 0.1l1 0.2l1 0.1l1 0.2l1 0.1l1 0.2l1 0.1l1 0.2l1 0.1l1 0.2l1 0.1l1 0.2l1 0.1l1 0.2l1 0.1l1 0.2l1 0.1l1 0.2l1 0.1l1 0.2l1 0.1l1 0.2l1 0.2l1 0.1l1 0.2l1 0.1l1 0.2l1 0.1l1 0.2l1 0.1l1 0.2l1 0.2l1 0.1l1 0.2l1 0.1l1 0.2l1 0.2l1 0.1l1 0.2l1 0.1l1 0.2l1 0.2l1 0.1l1 0.2l1 0.1l1 0.2l1 0.1l1 0.2l1 0.2l1 0.1l1 0.2l1 0.1l1 0.2l1 0.2l1 0.1l1 0.2l1 0.1l1 0.2l1 0.2l1 0.1l1 0.2l1 0.1l1 0.2l1 0.1l1 0.2l1 0.1l1 0.2l1 0.2l1 0.1l1 0.2l1 0.1l1 0.2l1 0.1l1 0.2l1 0.1l1 0.2l1 0.1l1 0.2l1 0.1l1 0.2l1 0.1l1 0.1l1 0.2l1 0.1l1 0.2l1 0.1l1 0.2l1 0.1l1 0.1l1 0.2l1 0.1l1 0.2l1 0.1l1 0.1l1 0.2l1 0.1l1 0.1l1 0.2l1 0.1l1 0.1l1 0.1l1 0.2l1 0.1l1 0.1l1 0.2l1 0.1l1 0.1l1 0.1l1 0.2l1 0.1l1 0.1l1 0.1l1 0.1l1 0.2l1 0.1l1 0.1l1 0.1l1 0.2l1 0.1l1 0.1l1 0.1l1 0.1l1 0.2l1 0.1l1 0.1l1 0.1l1 0.1l1 0.1l1 0.2l1 0.1l1 0.1l1 0.1l1 0.1l1 0.1l1 0.2l1 0.1l1 0.1l1 0.1l1 0.1l1 0.1l1 0.1l1 0.2l1 0.1l1 0.1l1 0.1l1 0.1l1 0.1l1 0.1l1 0.1l1 0.1l1 0.1l1 0.2l1 0.1l1 0.1l1 0.1l1 0.1l1 0.1l1 0.1l1 0.1l1 0.1l1 0.1l1 0.1l1 0.1l1 0.1l1 0.1l1 0.1l1 0.1l1 0.1l1 0.1l1 0.1l1 0.1l1 0.1l1 0.1l1 0.1l1 0.1l1 0.1l1 0.1l1 0.1l1 0.1l1 0.1l1 0.1l1 0.1l1 0.1l1 0.1l1 0.1l1 0.1l1 0.1l1 0l1 0.1l1 0.1l1 0.1l1 0.1l1 0.1l1 0.1l1 0.1l1 0.1l1 0l0.7 0.1" fill="none" stroke="#000000" stroke-width="4.8" stroke-linejoin="round" stroke-linecap="round"/><rect x="1178.3" y="26" width="921.3" height="712.8" fill="none" stroke="#000" stroke-width="5.6"/><line x1="1229.5" y1="738.8" x2="1229.5" y2="756" stroke="#000" stroke-width="5.6" stroke-linecap="butt"/><line x1="1306.3" y1="738.8" x2="1306.3" y2="748" stroke="#000" stroke-width="5.6" stroke-linecap="butt"/><line x1="1383" y1="738.8" x2="1383" y2="756" stroke="#000" stroke-width="5.6" stroke-linecap="butt"/><line x1="1459.8" y1="738.8" x2="1459.8" y2="748" stroke="#000" stroke-width="5.6" stroke-linecap="butt"/><line x1="1536.6" y1="738.8" x2="1536.6" y2="756" stroke="#000" stroke-width="5.6" stroke-linecap="butt"/><line x1="1613.4" y1="738.8" x2="1613.4" y2="748" stroke="#000" stroke-width="5.6" stroke-linecap="butt"/><line x1="1690.1" y1="738.8" x2="1690.1" y2="756" stroke="#000" stroke-width="5.6" stroke-linecap="butt"/><line x1="1766.9" y1="738.8" x2="1766.9" y2="748" stroke="#000" stroke-width="5.6" stroke-linecap="butt"/><line x1="1843.7" y1="738.8" x2="1843.7" y2="756" stroke="#000" stroke-width="5.6" stroke-linecap="butt"/><line x1="1920.5" y1="738.8" x2="1920.5" y2="748" stroke="#000" stroke-width="5.6" stroke-linecap="butt"/><line x1="1997.2" y1="738.8" x2="1997.2" y2="756" stroke="#000" stroke-width="5.6" stroke-linecap="butt"/><line x1="2074" y1="738.8" x2="2074" y2="748" stroke="#000" stroke-width="5.6" stroke-linecap="butt"/><text x="1229.5" y="791.7" font-family="'Liberation Sans', Arial, sans-serif" font-size="40" font-weight="bold" fill="#000" text-anchor="middle">3900</text><text x="1383" y="791.7" font-family="'Liberation Sans', Arial, sans-serif" font-size="40" font-weight="bold" fill="#000" text-anchor="middle">3600</text><text x="1536.6" y="791.7" font-family="'Liberation Sans', Arial, sans-serif" font-size="40" font-weight="bold" fill="#000" text-anchor="middle">3300</text><text x="1690.1" y="791.7" font-family="'Liberation Sans', Arial, sans-serif" font-size="40" font-weight="bold" fill="#000" text-anchor="middle">3000</text><text x="1843.7" y="791.7" font-family="'Liberation Sans', Arial, sans-serif" font-size="40" font-weight="bold" fill="#000" text-anchor="middle">2700</text><text x="1997.2" y="791.7" font-family="'Liberation Sans', Arial, sans-serif" font-size="40" font-weight="bold" fill="#000" text-anchor="middle">2400</text><text x="1426.4" y="842.5" font-family="'Liberation Sans', Arial, sans-serif" font-size="40" font-weight="bold" fill="#000" text-anchor="start" textLength="321.5" lengthAdjust="spacingAndGlyphs">Wavenumber/cm</text><text x="1752.9" y="823.7" font-family="'Liberation Sans', Arial, sans-serif" font-size="24" font-weight="normal" fill="#000" text-anchor="start" textLength="23.7" lengthAdjust="spacingAndGlyphs">&#8722;1</text><text transform="translate(1142.4 406.7) rotate(-90)" x="0" y="0" font-family="'Liberation Sans', Arial, sans-serif" font-size="40" font-weight="bold" text-anchor="middle" textLength="263.6" lengthAdjust="spacingAndGlyphs">Intensity (a.u.)</text><text x="2017.6" y="86.9" font-family="'Liberation Sans', Arial, sans-serif" font-size="58" font-weight="bold" fill="#000" text-anchor="start" textLength="72" lengthAdjust="spacingAndGlyphs">(b)</text><text x="1828" y="415.6" font-family="'Liberation Sans', Arial, sans-serif" font-size="40" font-weight="bold" fill="#ff0000" text-anchor="start" textLength="135.8" lengthAdjust="spacingAndGlyphs">Si-Beta</text><text x="1819" y="653" font-family="'Liberation Sans', Arial, sans-serif" font-size="40" font-weight="bold" fill="#000" text-anchor="start" textLength="216" lengthAdjust="spacingAndGlyphs">Ti-Beta-100</text><text x="1438.7" y="210.6" font-family="'Liberation Serif', 'Times New Roman', serif" font-size="38" font-weight="bold" fill="#ff0000" text-anchor="start" textLength="231" lengthAdjust="spacingAndGlyphs">3500~3300cm</text><text x="1675" y="192.6" font-family="'Liberation Serif', 'Times New Roman', serif" font-size="25" font-weight="bold" fill="#ff0000" text-anchor="start" textLength="23" lengthAdjust="spacingAndGlyphs">&#8722;1</text><line x1="1508" y1="225.9" x2="1478" y2="247" stroke="#ff0000" stroke-width="4.2" stroke-linecap="butt"/><path d="M1455.4 262 L1474.8 238.4 L1480.5 246 L1485.2 250.8 Z" fill="#ff0000"/><path d="M170 1548l0.1 -6.1l-1 -6.1l0.9 -6.1l-1.2 -6.1l1.1 -6.1l-0.6 -6.1l0.6 -6.1l-0.8 -6.1l0.2 -6.1l0.6 -6.1l0.5 -6l-1.1 -6.1l-0.3 -6.1l-0.1 -6.1l1 -6.1l0.4 -6.1l-1.6 -6.1l0.6 -6.1l-0.3 -6.1l1.4 -6.1l-1.5 -6.1l1.9 0l2.3 0l3.8 -0.2l3.8 -1.1l3.7 -2.6l3.8 0.1l19 -8l18.9 -3.6l18.9 -3.8l18.9 -4.1l19 -3.1l18.9 -1.2l18.9 -1.9l18.9 -2.9l19 -2.3l18.9 -2.8l18.9 -2l18.9 -2.9l19 -2.2l18.9 -2.8l18.9 -2.3l18.9 -3l19 -2.3l18.9 -0.5l18.9 -3.4l18.9 -0.8l19 -4.5l18.9 -1l18.9 -4.3l18.9 0l19 -4.4l18.9 -0.9l18.9 -3.3l18.9 -2.3l18.9 -6.6l19 -0.6l18.9 -7.6l18.9 -4.9l19 -11.4l18.9 -3.2l17.7 -11.3l19.1 -15l20.5 -43.7l17.8 -88.8l15.5 -76.3" fill="none" stroke="#000000" stroke-width="3.4" stroke-linejoin="round" stroke-linecap="round"/><path d="M922.3 1070.2l-34.7 76.3l-36.8 125.7l-17.1 29.6l-20.9 0.7l-17 13.9l-20.9 2.4l-16.9 10.1l-21 -1.9l-16.9 9.1l-20.9 -0.2l-16.9 5.8l-20.9 -1.6l-17 6.9l-20.9 -2.5l-16.9 6.8l-20.9 -1.5l-17 7l-20.9 -1.7l-16.9 5.9l-20.9 -2l-17 4.8l-20.9 0.5l-16.9 4.8l-20.9 0.3l-17 4.7l-20.9 0.4l-16.9 4.5l-20.9 0.3l-17 4.8l-20.9 0.4l-16.9 4.4l-20.9 -1.3l-17 5.6l-20.9 1.6l-16.9 6.3l-20.9 1.1l-17 10.5l-5.8 3.4" fill="none" stroke="#000000" stroke-width="3.4" stroke-linejoin="round" stroke-linecap="round"/><g fill="#000000"><rect x="161.8" y="1539.8" width="16.4" height="16.4"/><rect x="162" y="1533.7" width="16.4" height="16.4"/><rect x="160.9" y="1527.6" width="16.4" height="16.4"/><rect x="161.8" y="1521.5" width="16.4" height="16.4"/><rect x="160.6" y="1515.4" width="16.4" height="16.4"/><rect x="161.7" y="1509.3" width="16.4" height="16.4"/><rect x="161.1" y="1503.2" width="16.4" height="16.4"/><rect x="161.7" y="1497.1" width="16.4" height="16.4"/><rect x="160.9" y="1491" width="16.4" height="16.4"/><rect x="161.1" y="1485" width="16.4" height="16.4"/><rect x="161.7" y="1478.9" width="16.4" height="16.4"/><rect x="162.2" y="1472.8" width="16.4" height="16.4"/><rect x="161.1" y="1466.7" width="16.4" height="16.4"/><rect x="160.8" y="1460.6" width="16.4" height="16.4"/><rect x="160.7" y="1454.5" width="16.4" height="16.4"/><rect x="161.7" y="1448.4" width="16.4" height="16.4"/><rect x="162.1" y="1442.3" width="16.4" height="16.4"/><rect x="160.5" y="1436.2" width="16.4" height="16.4"/><rect x="161.1" y="1430.1" width="16.4" height="16.4"/><rect x="160.8" y="1424" width="16.4" height="16.4"/><rect x="162.2" y="1417.9" width="16.4" height="16.4"/><rect x="160.7" y="1411.8" width="16.4" height="16.4"/><rect x="162.6" y="1411.8" width="16.4" height="16.4"/><rect x="164.9" y="1411.8" width="16.4" height="16.4"/><rect x="168.7" y="1411.6" width="16.4" height="16.4"/><rect x="172.5" y="1410.5" width="16.4" height="16.4"/><rect x="176.2" y="1407.9" width="16.4" height="16.4"/><rect x="180" y="1408" width="16.4" height="16.4"/><rect x="199" y="1400" width="16.4" height="16.4"/><rect x="217.9" y="1396.4" width="16.4" height="16.4"/><rect x="236.8" y="1392.6" width="16.4" height="16.4"/><rect x="255.7" y="1388.5" width="16.4" height="16.4"/><rect x="274.7" y="1385.4" width="16.4" height="16.4"/><rect x="293.6" y="1384.2" width="16.4" height="16.4"/><rect x="312.5" y="1382.3" width="16.4" height="16.4"/><rect x="331.4" y="1379.5" width="16.4" height="16.4"/><rect x="350.4" y="1377.1" width="16.4" height="16.4"/><rect x="369.3" y="1374.3" width="16.4" height="16.4"/><rect x="388.2" y="1372.3" width="16.4" height="16.4"/><rect x="407.1" y="1369.4" width="16.4" height="16.4"/><rect x="426.1" y="1367.3" width="16.4" height="16.4"/><rect x="445" y="1364.4" width="16.4" height="16.4"/><rect x="463.9" y="1362.1" width="16.4" height="16.4"/><rect x="482.8" y="1359.1" width="16.4" height="16.4"/><rect x="501.8" y="1356.8" width="16.4" height="16.4"/><rect x="520.7" y="1356.3" width="16.4" height="16.4"/><rect x="539.6" y="1353" width="16.4" height="16.4"/><rect x="558.5" y="1352.1" width="16.4" height="16.4"/><rect x="577.5" y="1347.6" width="16.4" height="16.4"/><rect x="596.4" y="1346.6" width="16.4" height="16.4"/><rect x="615.3" y="1342.3" width="16.4" height="16.4"/><rect x="634.2" y="1342.3" width="16.4" height="16.4"/><rect x="653.2" y="1337.9" width="16.4" height="16.4"/><rect x="672.1" y="1337.1" width="16.4" height="16.4"/><rect x="691" y="1333.7" width="16.4" height="16.4"/><rect x="709.9" y="1331.4" width="16.4" height="16.4"/><rect x="728.9" y="1324.8" width="16.4" height="16.4"/><rect x="747.8" y="1324.3" width="16.4" height="16.4"/><rect x="766.7" y="1316.6" width="16.4" height="16.4"/><rect x="785.6" y="1311.7" width="16.4" height="16.4"/><rect x="804.6" y="1300.3" width="16.4" height="16.4"/><rect x="823.5" y="1297.1" width="16.4" height="16.4"/><rect x="185.7" y="1403.7" width="16.4" height="16.4"/><rect x="193.3" y="1400.3" width="16.4" height="16.4"/><rect x="208.4" y="1396.5" width="16.4" height="16.4"/><rect x="227.3" y="1393.1" width="16.4" height="16.4"/><rect x="246.3" y="1389" width="16.4" height="16.4"/><rect x="265.2" y="1385.2" width="16.4" height="16.4"/><rect x="841.2" y="1285.8" width="16.4" height="16.4"/><rect x="860.3" y="1270.8" width="16.4" height="16.4"/><rect x="880.8" y="1227.1" width="16.4" height="16.4"/><rect x="898.6" y="1138.3" width="16.4" height="16.4"/><rect x="914.1" y="1062" width="16.4" height="16.4"/><rect x="879.4" y="1138.3" width="16.4" height="16.4"/><rect x="842.6" y="1264" width="16.4" height="16.4"/><rect x="182" y="1404.5" width="16.4" height="16.4"/><rect x="199" y="1394" width="16.4" height="16.4"/><rect x="219.9" y="1392.9" width="16.4" height="16.4"/><rect x="236.8" y="1386.6" width="16.4" height="16.4"/><rect x="257.7" y="1385" width="16.4" height="16.4"/><rect x="274.7" y="1379.4" width="16.4" height="16.4"/><rect x="295.6" y="1380.7" width="16.4" height="16.4"/><rect x="312.5" y="1376.3" width="16.4" height="16.4"/><rect x="333.4" y="1376" width="16.4" height="16.4"/><rect x="350.4" y="1371.1" width="16.4" height="16.4"/><rect x="371.3" y="1370.8" width="16.4" height="16.4"/><rect x="388.2" y="1366.3" width="16.4" height="16.4"/><rect x="409.1" y="1365.9" width="16.4" height="16.4"/><rect x="426.1" y="1361.3" width="16.4" height="16.4"/><rect x="447" y="1360.9" width="16.4" height="16.4"/><rect x="463.9" y="1356.1" width="16.4" height="16.4"/><rect x="484.8" y="1355.6" width="16.4" height="16.4"/><rect x="501.8" y="1350.8" width="16.4" height="16.4"/><rect x="522.7" y="1352.8" width="16.4" height="16.4"/><rect x="539.6" y="1347" width="16.4" height="16.4"/><rect x="560.5" y="1348.6" width="16.4" height="16.4"/><rect x="577.5" y="1341.6" width="16.4" height="16.4"/><rect x="598.4" y="1343.1" width="16.4" height="16.4"/><rect x="615.3" y="1336.3" width="16.4" height="16.4"/><rect x="636.2" y="1338.8" width="16.4" height="16.4"/><rect x="653.2" y="1331.9" width="16.4" height="16.4"/><rect x="674.1" y="1333.6" width="16.4" height="16.4"/><rect x="691" y="1327.7" width="16.4" height="16.4"/><rect x="711.9" y="1327.9" width="16.4" height="16.4"/><rect x="728.9" y="1318.8" width="16.4" height="16.4"/><rect x="749.8" y="1320.8" width="16.4" height="16.4"/><rect x="766.7" y="1310.6" width="16.4" height="16.4"/><rect x="787.6" y="1308.2" width="16.4" height="16.4"/><rect x="804.6" y="1294.3" width="16.4" height="16.4"/><rect x="825.5" y="1293.6" width="16.4" height="16.4"/></g><path d="M168.8 1446l1.3 -6.2l0.4 -6.3l-0.4 -6.2l-1.2 -6.2l0.5 -6.3l0.2 -6.2l0.7 -6.2l-0.2 -6.3l-1.3 -6.2l0.7 -6.3l0.6 -6.2l-0.4 -6.2l0.2 -6.3l0.5 -6.2l0.1 -6.2l-0.3 -6.3l-0.5 -6.2l1.1 0l2.3 -1.2l3.8 -1.2l3.8 -0.9l3.7 -2.6l3.8 0.1l19 -7.5l18.9 -5.8l18.9 -5.2l18.9 -3.9l19 -3.1l18.9 -2.3l18.9 -2.8l18.9 -3l19 -2.3l18.9 -2.8l18.9 -2l18.9 -2.9l19 -2.2l18.9 -2.8l18.9 -2.2l18.9 -2l19 -1.1l18.9 0.2l18.9 -6.4l18.9 -0.3l19 -6.4l18.9 -0.2l18.9 -4.1l18.9 -0.3l19 -6.3l18.9 -0.6l18.9 -7.2l18.9 1l18.9 -10l19 1.2l18.9 -13.1l18.9 2l19 -13.6l18.9 -1.2l19.1 -14l20 -13.6l18.2 -36.4l18.2 -77.8l15.1 -69.7" fill="none" stroke="#ff0000" stroke-width="3.4" stroke-linejoin="round" stroke-linecap="round"/><path d="M922.3 1003.5l-32.3 83.9l-39.4 98l-16.9 26.1l-20.9 -1.3l-17 16.1l-20.9 -4.5l-16.9 15.6l-21 -3.7l-16.9 12.5l-20.9 -3.5l-16.9 9.7l-20.9 -1.9l-17 8.8l-20.9 -2.2l-16.9 6.6l-20.9 -2.3l-17 8.9l-20.9 -2.2l-16.9 8.9l-20.9 -2.7l-17 3.6l-20.9 -0.5l-16.9 4.7l-20.9 0.3l-17 4.7l-20.9 0.4l-16.9 4.5l-20.9 0.3l-17 4.8l-20.9 0.5l-16.9 5.3l-20.9 -0.2l-17 5.6l-20.9 1.4l-16.9 7.7l-20.9 3.3l-17 10l-5.8 3.4" fill="none" stroke="#ff0000" stroke-width="3.4" stroke-linejoin="round" stroke-linecap="round"/><g fill="#ff0000"><circle cx="168.8" cy="1446" r="7.8"/><circle cx="170.1" cy="1439.8" r="7.8"/><circle cx="170.5" cy="1433.5" r="7.8"/><circle cx="170.1" cy="1427.3" r="7.8"/><circle cx="168.9" cy="1421.1" r="7.8"/><circle cx="169.4" cy="1414.8" r="7.8"/><circle cx="169.6" cy="1408.6" r="7.8"/><circle cx="170.3" cy="1402.4" r="7.8"/><circle cx="170.1" cy="1396.1" r="7.8"/><circle cx="168.8" cy="1389.9" r="7.8"/><circle cx="169.5" cy="1383.6" r="7.8"/><circle cx="170.1" cy="1377.4" r="7.8"/><circle cx="169.7" cy="1371.2" r="7.8"/><circle cx="169.9" cy="1364.9" r="7.8"/><circle cx="170.4" cy="1358.7" r="7.8"/><circle cx="170.5" cy="1352.5" r="7.8"/><circle cx="170.2" cy="1346.2" r="7.8"/><circle cx="169.7" cy="1340" r="7.8"/><circle cx="170.8" cy="1340" r="7.8"/><circle cx="173.1" cy="1338.8" r="7.8"/><circle cx="176.9" cy="1337.6" r="7.8"/><circle cx="180.7" cy="1336.7" r="7.8"/><circle cx="184.4" cy="1334.1" r="7.8"/><circle cx="188.2" cy="1334.2" r="7.8"/><circle cx="207.2" cy="1326.7" r="7.8"/><circle cx="226.1" cy="1320.9" r="7.8"/><circle cx="245" cy="1315.7" r="7.8"/><circle cx="263.9" cy="1311.8" r="7.8"/><circle cx="282.9" cy="1308.7" r="7.8"/><circle cx="301.8" cy="1306.4" r="7.8"/><circle cx="320.7" cy="1303.6" r="7.8"/><circle cx="339.6" cy="1300.6" r="7.8"/><circle cx="358.6" cy="1298.3" r="7.8"/><circle cx="377.5" cy="1295.5" r="7.8"/><circle cx="396.4" cy="1293.5" r="7.8"/><circle cx="415.3" cy="1290.6" r="7.8"/><circle cx="434.3" cy="1288.4" r="7.8"/><circle cx="453.2" cy="1285.6" r="7.8"/><circle cx="472.1" cy="1283.4" r="7.8"/><circle cx="491" cy="1281.4" r="7.8"/><circle cx="510" cy="1280.3" r="7.8"/><circle cx="528.9" cy="1280.5" r="7.8"/><circle cx="547.8" cy="1274.1" r="7.8"/><circle cx="566.7" cy="1273.8" r="7.8"/><circle cx="585.7" cy="1267.4" r="7.8"/><circle cx="604.6" cy="1267.2" r="7.8"/><circle cx="623.5" cy="1263.1" r="7.8"/><circle cx="642.4" cy="1262.8" r="7.8"/><circle cx="661.4" cy="1256.5" r="7.8"/><circle cx="680.3" cy="1255.9" r="7.8"/><circle cx="699.2" cy="1248.7" r="7.8"/><circle cx="718.1" cy="1249.7" r="7.8"/><circle cx="737" cy="1239.7" r="7.8"/><circle cx="756" cy="1240.9" r="7.8"/><circle cx="774.9" cy="1227.8" r="7.8"/><circle cx="793.8" cy="1229.8" r="7.8"/><circle cx="812.8" cy="1216.2" r="7.8"/><circle cx="831.7" cy="1215" r="7.8"/><circle cx="193.9" cy="1330" r="7.8"/><circle cx="201.5" cy="1327.1" r="7.8"/><circle cx="216.6" cy="1322.3" r="7.8"/><circle cx="235.5" cy="1316.6" r="7.8"/><circle cx="254.5" cy="1312.1" r="7.8"/><circle cx="273.4" cy="1308.6" r="7.8"/><circle cx="850.8" cy="1201" r="7.8"/><circle cx="870.8" cy="1187.4" r="7.8"/><circle cx="889" cy="1151" r="7.8"/><circle cx="907.2" cy="1073.2" r="7.8"/><circle cx="922.3" cy="1003.5" r="7.8"/><circle cx="890" cy="1087.4" r="7.8"/><circle cx="850.6" cy="1185.4" r="7.8"/><circle cx="190.2" cy="1330.7" r="7.8"/><circle cx="207.2" cy="1320.7" r="7.8"/><circle cx="228.1" cy="1317.4" r="7.8"/><circle cx="245" cy="1309.7" r="7.8"/><circle cx="265.9" cy="1308.3" r="7.8"/><circle cx="282.9" cy="1302.7" r="7.8"/><circle cx="303.8" cy="1302.9" r="7.8"/><circle cx="320.7" cy="1297.6" r="7.8"/><circle cx="341.6" cy="1297.1" r="7.8"/><circle cx="358.6" cy="1292.3" r="7.8"/><circle cx="379.5" cy="1292" r="7.8"/><circle cx="396.4" cy="1287.5" r="7.8"/><circle cx="417.3" cy="1287.1" r="7.8"/><circle cx="434.3" cy="1282.4" r="7.8"/><circle cx="455.2" cy="1282.1" r="7.8"/><circle cx="472.1" cy="1277.4" r="7.8"/><circle cx="493" cy="1277.9" r="7.8"/><circle cx="510" cy="1274.3" r="7.8"/><circle cx="530.9" cy="1277" r="7.8"/><circle cx="547.8" cy="1268.1" r="7.8"/><circle cx="568.7" cy="1270.3" r="7.8"/><circle cx="585.7" cy="1261.4" r="7.8"/><circle cx="606.6" cy="1263.7" r="7.8"/><circle cx="623.5" cy="1257.1" r="7.8"/><circle cx="644.4" cy="1259.3" r="7.8"/><circle cx="661.4" cy="1250.5" r="7.8"/><circle cx="682.3" cy="1252.4" r="7.8"/><circle cx="699.2" cy="1242.7" r="7.8"/><circle cx="720.1" cy="1246.2" r="7.8"/><circle cx="737" cy="1233.7" r="7.8"/><circle cx="758" cy="1237.4" r="7.8"/><circle cx="774.9" cy="1221.8" r="7.8"/><circle cx="795.8" cy="1226.3" r="7.8"/><circle cx="812.8" cy="1210.2" r="7.8"/><circle cx="833.7" cy="1211.5" r="7.8"/></g><path d="M169.3 1428l-0.3 -6.1l0 -6.1l0.9 -6.1l0.2 -6.1l0.1 -6.2l0.1 -6.1l-1.1 -6.1l0.1 -6.1l-0.2 -6.1l0.6 -6.1l0.7 -6.1l-0.3 -6.1l-0.6 -6.1l-0.5 -6.2l1.2 -6.1l0.1 -6.1l-0.2 -6.1l-0.9 -6.1l1.6 -3.9l2.3 -8.3l3.8 -6.6l3.8 -3l3.7 -1.9l3.8 0.9l19 -4.6l18.9 -2.7l18.9 -3.6l18.9 -6.8l19 -6.5l18.9 -5.2l18.9 -4.6l18.9 -4.1l19 -3.3l18.9 -3.9l18.9 -3.8l18.9 -4.2l19 -3.8l18.9 -3.2l18.9 -4l18.9 -3.3l19 -3.2l18.9 0.4l18.9 -7.4l18.9 0.3l19 -8.6l18.9 -1.6l18.9 -5.5l18.9 -1.8l19 -7.6l18.9 -0.7l18.9 -8.5l18.9 0l18.9 -10.6l19 -0.9l18.9 -13.1l18.9 -3l19 -15.7l18.9 -6l19.1 -23.1l20 -8.5l18.2 -30.3l19.2 -84.9l14.1 -107.1" fill="none" stroke="#0000ff" stroke-width="3.4" stroke-linejoin="round" stroke-linecap="round"/><path d="M922.3 880.2l-32.3 133.4l-39.4 95l-16.9 22l-20.9 3.5l-17 18.2l-20.9 0.5l-16.9 15.6l-21 -1.6l-16.9 13.1l-20.9 -2.5l-16.9 11l-20.9 -1.8l-17 10.1l-20.9 -0.7l-16.9 8l-20.9 -0.9l-17 11.1l-20.9 -2.8l-16.9 9.9l-20.9 -2.9l-17 5.7l-20.9 0.8l-16.9 6.5l-20.9 0.7l-17 6.3l-20.9 1.7l-16.9 6.3l-20.9 1.4l-17 5.8l-20.9 1.6l-16.9 7.1l-20.9 2.7l-17 9l-20.9 4.3l-16.9 6.1l-20.9 0.2l-17 7.1l-5.8 2.6" fill="none" stroke="#0000ff" stroke-width="3.4" stroke-linejoin="round" stroke-linecap="round"/><g fill="#0000ff"><path d="M169.3 1414.6L179.8 1434.9L158.8 1434.9Z"/><path d="M169 1408.4L179.5 1428.8L158.5 1428.8Z"/><path d="M169 1402.3L179.5 1422.7L158.5 1422.7Z"/><path d="M169.9 1396.2L180.4 1416.6L159.4 1416.6Z"/><path d="M170.1 1390.1L180.6 1410.5L159.6 1410.5Z"/><path d="M170.2 1384L180.7 1404.4L159.7 1404.4Z"/><path d="M170.3 1377.9L180.8 1398.3L159.8 1398.3Z"/><path d="M169.2 1371.8L179.7 1392.2L158.7 1392.2Z"/><path d="M169.3 1365.7L179.8 1386L158.8 1386Z"/><path d="M169.1 1359.6L179.6 1379.9L158.6 1379.9Z"/><path d="M169.7 1353.4L180.2 1373.8L159.2 1373.8Z"/><path d="M170.4 1347.3L180.9 1367.7L159.9 1367.7Z"/><path d="M170.1 1341.2L180.6 1361.6L159.6 1361.6Z"/><path d="M169.5 1335.1L180 1355.5L159 1355.5Z"/><path d="M169 1329L179.5 1349.4L158.5 1349.4Z"/><path d="M170.2 1322.9L180.7 1343.3L159.7 1343.3Z"/><path d="M170.3 1316.8L180.8 1337.2L159.8 1337.2Z"/><path d="M170.1 1310.7L180.6 1331L159.6 1331Z"/><path d="M169.2 1304.6L179.7 1324.9L158.7 1324.9Z"/><path d="M170.8 1300.7L181.3 1321.1L160.3 1321.1Z"/><path d="M173.1 1292.4L183.6 1312.7L162.6 1312.7Z"/><path d="M176.9 1285.7L187.4 1306.1L166.4 1306.1Z"/><path d="M180.7 1282.8L191.2 1303.2L170.2 1303.2Z"/><path d="M184.4 1280.9L194.9 1301.3L173.9 1301.3Z"/><path d="M188.2 1281.8L198.7 1302.2L177.7 1302.2Z"/><path d="M207.2 1277.2L217.7 1297.5L196.7 1297.5Z"/><path d="M226.1 1274.5L236.6 1294.9L215.6 1294.9Z"/><path d="M245 1270.8L255.5 1291.2L234.5 1291.2Z"/><path d="M263.9 1264.1L274.4 1284.5L253.4 1284.5Z"/><path d="M282.9 1257.5L293.4 1277.9L272.4 1277.9Z"/><path d="M301.8 1252.4L312.3 1272.7L291.3 1272.7Z"/><path d="M320.7 1247.7L331.2 1268.1L310.2 1268.1Z"/><path d="M339.6 1243.7L350.1 1264.1L329.1 1264.1Z"/><path d="M358.6 1240.4L369.1 1260.8L348.1 1260.8Z"/><path d="M377.5 1236.5L388 1256.9L367 1256.9Z"/><path d="M396.4 1232.6L406.9 1253L385.9 1253Z"/><path d="M415.3 1228.5L425.8 1248.9L404.8 1248.9Z"/><path d="M434.3 1224.7L444.8 1245.1L423.8 1245.1Z"/><path d="M453.2 1221.4L463.7 1241.8L442.7 1241.8Z"/><path d="M472.1 1217.5L482.6 1237.9L461.6 1237.9Z"/><path d="M491 1214.2L501.5 1234.5L480.5 1234.5Z"/><path d="M510 1211L520.5 1231.4L499.5 1231.4Z"/><path d="M528.9 1211.3L539.4 1231.7L518.4 1231.7Z"/><path d="M547.8 1203.9L558.3 1224.3L537.3 1224.3Z"/><path d="M566.7 1204.3L577.2 1224.6L556.2 1224.6Z"/><path d="M585.7 1195.7L596.2 1216.1L575.2 1216.1Z"/><path d="M604.6 1194.1L615.1 1214.4L594.1 1214.4Z"/><path d="M623.5 1188.6L634 1208.9L613 1208.9Z"/><path d="M642.4 1186.8L652.9 1207.1L631.9 1207.1Z"/><path d="M661.4 1179.2L671.9 1199.5L650.9 1199.5Z"/><path d="M680.3 1178.4L690.8 1198.8L669.8 1198.8Z"/><path d="M699.2 1170L709.7 1190.4L688.7 1190.4Z"/><path d="M718.1 1170L728.6 1190.3L707.6 1190.3Z"/><path d="M737 1159.4L747.5 1179.8L726.5 1179.8Z"/><path d="M756 1158.4L766.5 1178.8L745.5 1178.8Z"/><path d="M774.9 1145.4L785.4 1165.8L764.4 1165.8Z"/><path d="M793.8 1142.4L804.3 1162.8L783.3 1162.8Z"/><path d="M812.8 1126.7L823.2 1147L802.2 1147Z"/><path d="M831.7 1120.7L842.2 1141L821.2 1141Z"/><path d="M193.9 1278.5L204.4 1298.9L183.4 1298.9Z"/><path d="M201.5 1276.8L212 1297.1L191 1297.1Z"/><path d="M216.6 1274.2L227.1 1294.6L206.1 1294.6Z"/><path d="M235.5 1271.7L246 1292L225 1292Z"/><path d="M254.5 1266.1L265 1286.4L244 1286.4Z"/><path d="M273.4 1259.1L283.9 1279.5L262.9 1279.5Z"/><path d="M850.8 1097.6L861.3 1117.9L840.3 1117.9Z"/><path d="M870.8 1089.1L881.3 1109.4L860.3 1109.4Z"/><path d="M889 1058.8L899.5 1079.1L878.5 1079.1Z"/><path d="M908.2 973.9L918.7 994.2L897.7 994.2Z"/><path d="M922.3 866.8L932.8 887.1L911.8 887.1Z"/><path d="M890 1000.2L900.5 1020.5L879.5 1020.5Z"/><path d="M850.6 1095.2L861.1 1115.5L840.1 1115.5Z"/><path d="M190.2 1278.3L200.7 1298.7L179.7 1298.7Z"/><path d="M207.2 1271.2L217.7 1291.5L196.7 1291.5Z"/><path d="M228.1 1271L238.6 1291.4L217.6 1291.4Z"/><path d="M245 1264.8L255.5 1285.2L234.5 1285.2Z"/><path d="M265.9 1260.6L276.4 1281L255.4 1281Z"/><path d="M282.9 1251.5L293.4 1271.9L272.4 1271.9Z"/><path d="M303.8 1248.9L314.3 1269.2L293.3 1269.2Z"/><path d="M320.7 1241.7L331.2 1262.1L310.2 1262.1Z"/><path d="M341.6 1240.2L352.1 1260.6L331.1 1260.6Z"/><path d="M358.6 1234.4L369.1 1254.8L348.1 1254.8Z"/><path d="M379.5 1233L390 1253.4L369 1253.4Z"/><path d="M396.4 1226.6L406.9 1247L385.9 1247Z"/><path d="M417.3 1225L427.8 1245.4L406.8 1245.4Z"/><path d="M434.3 1218.7L444.8 1239.1L423.8 1239.1Z"/><path d="M455.2 1217.9L465.7 1238.3L444.7 1238.3Z"/><path d="M472.1 1211.5L482.6 1231.9L461.6 1231.9Z"/><path d="M493 1210.7L503.5 1231L482.5 1231Z"/><path d="M510 1205L520.5 1225.4L499.5 1225.4Z"/><path d="M530.9 1207.8L541.4 1228.2L520.4 1228.2Z"/><path d="M547.8 1197.9L558.3 1218.3L537.3 1218.3Z"/><path d="M568.7 1200.8L579.2 1221.1L558.2 1221.1Z"/><path d="M585.7 1189.7L596.2 1210.1L575.2 1210.1Z"/><path d="M606.6 1190.6L617.1 1210.9L596.1 1210.9Z"/><path d="M623.5 1182.6L634 1202.9L613 1202.9Z"/><path d="M644.4 1183.3L654.9 1203.6L633.9 1203.6Z"/><path d="M661.4 1173.2L671.9 1193.5L650.9 1193.5Z"/><path d="M682.3 1174.9L692.8 1195.3L671.8 1195.3Z"/><path d="M699.2 1164L709.7 1184.4L688.7 1184.4Z"/><path d="M720.1 1166.5L730.6 1186.8L709.6 1186.8Z"/><path d="M737 1153.4L747.5 1173.8L726.5 1173.8Z"/><path d="M758 1154.9L768.5 1175.3L747.5 1175.3Z"/><path d="M774.9 1139.4L785.4 1159.8L764.4 1159.8Z"/><path d="M795.8 1138.9L806.3 1159.3L785.3 1159.3Z"/><path d="M812.8 1120.7L823.2 1141L802.2 1141Z"/><path d="M833.7 1117.2L844.2 1137.5L823.2 1137.5Z"/></g><path d="M169.4 1549l0.4 -6.1l0.6 -6.1l-1.3 -6l0.4 -6.1l-0.7 -6.1l-0.1 -6.1l0.4 -6.1l1.1 -6.1l-0.3 -6.1l-0.3 -6l-0.2 -6.1l-0.2 -6.1l1.6 -4.7l2.3 -1.9l3.8 -2.6l3.8 -2.1l3.7 -1.6l3.8 1.3l19 -3.1l18.9 -1.1l18.9 -2.5l18.9 -3.2l19 -2.6l18.9 -2.9l18.9 -2l18.9 -2l19 -2.1l18.9 -2l18.9 -1.8l18.9 -1.2l19 -1.7l18.9 0.5l18.9 -1.4l18.9 0.5l19 -0.6l18.9 0.1l18.9 -3.5l18.9 -2.1l19 -4l18.9 -1.1l18.9 -4l18.9 -2.9l19 -5.8l18.9 -0.8l18.9 -3.7l18.9 -3l18.9 -3.8l19 -3.3l18.9 -5.2l18.9 -5.8l19 -7.7l18.9 -7.2l19.1 -14.5l19.1 -17.8l17.7 -36.9l19.2 -99.7l15 -36.9" fill="none" stroke="#ff00ff" stroke-width="3.4" stroke-linejoin="round" stroke-linecap="round"/><path d="M921.8 1165.6l-34.2 36.9l-36.8 138l-17.1 27.4l-20.9 4.7l-17 10.2l-20.9 3.3l-16.9 7.7l-21 0.8l-16.9 6.3l-20.9 0.5l-16.9 6.2l-20.9 -1.7l-17 8.3l-20.9 0.4l-16.9 6.5l-20.9 -1.4l-17 6.5l-20.9 -0.4l-16.9 6l-20.9 -2.6l-17 3.1l-20.9 -3l-16.9 3.9l-20.9 -3l-17 4.2l-20.9 -1.3l-16.9 4.3l-20.9 -0.5l-17 4.6l-20.9 -0.5l-16.9 4.5l-20.9 0.4l-17 5.1l-20.9 0.7l-16.9 5l-20.9 -1.4l-17 5.6l-5.8 2.2" fill="none" stroke="#ff00ff" stroke-width="3.4" stroke-linejoin="round" stroke-linecap="round"/><g fill="#ff00ff"><path d="M169.4 1562.2L180.3 1542.5L158.5 1542.5Z"/><path d="M169.8 1556.1L180.7 1536.4L158.8 1536.4Z"/><path d="M170.4 1550.1L181.3 1530.3L159.4 1530.3Z"/><path d="M169.1 1544L180.1 1524.2L158.2 1524.2Z"/><path d="M169.5 1537.9L180.4 1518.2L158.5 1518.2Z"/><path d="M168.8 1531.8L179.7 1512.1L157.9 1512.1Z"/><path d="M168.7 1525.7L179.6 1506L157.8 1506Z"/><path d="M169.1 1519.6L180.1 1499.9L158.2 1499.9Z"/><path d="M170.2 1513.6L181.1 1493.8L159.2 1493.8Z"/><path d="M169.9 1507.5L180.8 1487.7L159 1487.7Z"/><path d="M169.6 1501.4L180.5 1481.7L158.6 1481.7Z"/><path d="M169.4 1495.3L180.4 1475.6L158.5 1475.6Z"/><path d="M169.2 1489.2L180.1 1469.5L158.3 1469.5Z"/><path d="M170.8 1484.5L181.7 1464.8L159.9 1464.8Z"/><path d="M173.1 1482.6L184 1462.9L162.2 1462.9Z"/><path d="M176.9 1480L187.8 1460.3L165.9 1460.3Z"/><path d="M180.7 1477.9L191.6 1458.2L169.7 1458.2Z"/><path d="M184.4 1476.3L195.4 1456.6L173.5 1456.6Z"/><path d="M188.2 1477.6L199.1 1457.8L177.3 1457.8Z"/><path d="M207.2 1474.5L218.1 1454.8L196.2 1454.8Z"/><path d="M226.1 1473.4L237 1453.6L215.2 1453.6Z"/><path d="M245 1470.9L255.9 1451.2L234.1 1451.2Z"/><path d="M263.9 1467.7L274.8 1448L253 1448Z"/><path d="M282.9 1465.1L293.8 1445.3L271.9 1445.3Z"/><path d="M301.8 1462.2L312.7 1442.5L290.9 1442.5Z"/><path d="M320.7 1460.3L331.6 1440.5L309.8 1440.5Z"/><path d="M339.6 1458.3L350.5 1438.5L328.7 1438.5Z"/><path d="M358.6 1456.2L369.5 1436.4L347.6 1436.4Z"/><path d="M377.5 1454.2L388.4 1434.4L366.6 1434.4Z"/><path d="M396.4 1452.3L407.3 1432.6L385.5 1432.6Z"/><path d="M415.3 1451.1L426.2 1431.3L404.4 1431.3Z"/><path d="M434.3 1449.5L445.2 1429.7L423.3 1429.7Z"/><path d="M453.2 1449.9L464.1 1430.2L442.3 1430.2Z"/><path d="M472.1 1448.5L483 1428.8L461.2 1428.8Z"/><path d="M491 1449L501.9 1429.3L480.1 1429.3Z"/><path d="M510 1448.4L520.9 1428.6L499 1428.6Z"/><path d="M528.9 1448.5L539.8 1428.8L518 1428.8Z"/><path d="M547.8 1445.1L558.7 1425.3L536.9 1425.3Z"/><path d="M566.7 1442.9L577.6 1423.2L555.8 1423.2Z"/><path d="M585.7 1438.9L596.6 1419.2L574.7 1419.2Z"/><path d="M604.6 1437.8L615.5 1418L593.7 1418Z"/><path d="M623.5 1433.8L634.4 1414.1L612.6 1414.1Z"/><path d="M642.4 1431L653.3 1411.2L631.5 1411.2Z"/><path d="M661.4 1425.2L672.3 1405.4L650.4 1405.4Z"/><path d="M680.3 1424.3L691.2 1404.5L669.4 1404.5Z"/><path d="M699.2 1420.7L710.1 1400.9L688.3 1400.9Z"/><path d="M718.1 1417.6L729 1397.9L707.2 1397.9Z"/><path d="M737 1413.8L748 1394.1L726.1 1394.1Z"/><path d="M756 1410.6L766.9 1390.8L745.1 1390.8Z"/><path d="M774.9 1405.3L785.8 1385.6L764 1385.6Z"/><path d="M793.8 1399.6L804.7 1379.8L782.9 1379.8Z"/><path d="M812.8 1391.8L823.7 1372.1L801.8 1372.1Z"/><path d="M831.7 1384.6L842.6 1364.8L820.8 1364.8Z"/><path d="M193.9 1474.9L204.8 1455.2L183 1455.2Z"/><path d="M201.5 1473.7L212.4 1453.9L190.6 1453.9Z"/><path d="M216.6 1472.4L227.5 1452.6L205.7 1452.6Z"/><path d="M235.5 1470.9L246.5 1451.2L224.6 1451.2Z"/><path d="M254.5 1467.7L265.4 1448L243.5 1448Z"/><path d="M273.4 1464.9L284.3 1445.2L262.5 1445.2Z"/><path d="M850.8 1370.1L861.7 1350.4L839.9 1350.4Z"/><path d="M869.9 1352.3L880.8 1332.6L859 1332.6Z"/><path d="M887.6 1315.4L898.5 1295.7L876.7 1295.7Z"/><path d="M906.8 1215.7L917.7 1196L895.9 1196Z"/><path d="M921.8 1178.8L932.7 1159.1L910.9 1159.1Z"/><path d="M887.6 1215.7L898.5 1196L876.7 1196Z"/><path d="M850.8 1353.7L861.7 1334L839.9 1334Z"/><path d="M190.2 1474.1L201.1 1454.3L179.3 1454.3Z"/><path d="M207.2 1468.5L218.1 1448.8L196.2 1448.8Z"/><path d="M228.1 1469.9L239 1450.1L217.2 1450.1Z"/><path d="M245 1464.9L255.9 1445.2L234.1 1445.2Z"/><path d="M265.9 1464.2L276.8 1444.5L255 1444.5Z"/><path d="M282.9 1459.1L293.8 1439.3L271.9 1439.3Z"/><path d="M303.8 1458.7L314.7 1439L292.9 1439Z"/><path d="M320.7 1454.3L331.6 1434.5L309.8 1434.5Z"/><path d="M341.6 1454.8L352.5 1435L330.7 1435Z"/><path d="M358.6 1450.2L369.5 1430.4L347.6 1430.4Z"/><path d="M379.5 1450.7L390.4 1430.9L368.6 1430.9Z"/><path d="M396.4 1446.3L407.3 1426.6L385.5 1426.6Z"/><path d="M417.3 1447.6L428.2 1427.8L406.4 1427.8Z"/><path d="M434.3 1443.5L445.2 1423.7L423.3 1423.7Z"/><path d="M455.2 1446.4L466.1 1426.7L444.3 1426.7Z"/><path d="M472.1 1442.5L483 1422.8L461.2 1422.8Z"/><path d="M493 1445.5L503.9 1425.8L482.1 1425.8Z"/><path d="M510 1442.4L520.9 1422.6L499 1422.6Z"/><path d="M530.9 1445L541.8 1425.3L520 1425.3Z"/><path d="M547.8 1439.1L558.7 1419.3L536.9 1419.3Z"/><path d="M568.7 1439.4L579.6 1419.7L557.8 1419.7Z"/><path d="M585.7 1432.9L596.6 1413.2L574.7 1413.2Z"/><path d="M606.6 1434.3L617.5 1414.5L595.7 1414.5Z"/><path d="M623.5 1427.8L634.4 1408.1L612.6 1408.1Z"/><path d="M644.4 1427.5L655.3 1407.7L633.5 1407.7Z"/><path d="M661.4 1419.2L672.3 1399.4L650.4 1399.4Z"/><path d="M682.3 1420.8L693.2 1401L671.4 1401Z"/><path d="M699.2 1414.7L710.1 1394.9L688.3 1394.9Z"/><path d="M720.1 1414.1L731 1394.4L709.2 1394.4Z"/><path d="M737 1407.8L748 1388.1L726.1 1388.1Z"/><path d="M758 1407.1L768.9 1387.3L747.1 1387.3Z"/><path d="M774.9 1399.3L785.8 1379.6L764 1379.6Z"/><path d="M795.8 1396.1L806.7 1376.3L784.9 1376.3Z"/><path d="M812.8 1385.8L823.7 1366.1L801.8 1366.1Z"/><path d="M833.7 1381.1L844.6 1361.3L822.8 1361.3Z"/></g><rect x="93.2" y="869.8" width="909.6" height="687.3" fill="none" stroke="#000" stroke-width="5.6"/><line x1="93.6" y1="1557.1" x2="93.6" y2="1567" stroke="#000" stroke-width="5.6" stroke-linecap="butt"/><line x1="169.3" y1="1557.1" x2="169.3" y2="1573.5" stroke="#000" stroke-width="5.6" stroke-linecap="butt"/><line x1="245" y1="1557.1" x2="245" y2="1567" stroke="#000" stroke-width="5.6" stroke-linecap="butt"/><line x1="320.7" y1="1557.1" x2="320.7" y2="1573.5" stroke="#000" stroke-width="5.6" stroke-linecap="butt"/><line x1="396.4" y1="1557.1" x2="396.4" y2="1567" stroke="#000" stroke-width="5.6" stroke-linecap="butt"/><line x1="472.1" y1="1557.1" x2="472.1" y2="1573.5" stroke="#000" stroke-width="5.6" stroke-linecap="butt"/><line x1="547.8" y1="1557.1" x2="547.8" y2="1567" stroke="#000" stroke-width="5.6" stroke-linecap="butt"/><line x1="623.5" y1="1557.1" x2="623.5" y2="1573.5" stroke="#000" stroke-width="5.6" stroke-linecap="butt"/><line x1="699.2" y1="1557.1" x2="699.2" y2="1567" stroke="#000" stroke-width="5.6" stroke-linecap="butt"/><line x1="774.9" y1="1557.1" x2="774.9" y2="1573.5" stroke="#000" stroke-width="5.6" stroke-linecap="butt"/><line x1="850.6" y1="1557.1" x2="850.6" y2="1567" stroke="#000" stroke-width="5.6" stroke-linecap="butt"/><line x1="926.3" y1="1557.1" x2="926.3" y2="1573.5" stroke="#000" stroke-width="5.6" stroke-linecap="butt"/><line x1="1002" y1="1557.1" x2="1002" y2="1567" stroke="#000" stroke-width="5.6" stroke-linecap="butt"/><text x="169.3" y="1613" font-family="'Liberation Sans', Arial, sans-serif" font-size="40" font-weight="bold" fill="#000" text-anchor="middle">0.0</text><text x="320.7" y="1613" font-family="'Liberation Sans', Arial, sans-serif" font-size="40" font-weight="bold" fill="#000" text-anchor="middle">0.2</text><text x="472.1" y="1613" font-family="'Liberation Sans', Arial, sans-serif" font-size="40" font-weight="bold" fill="#000" text-anchor="middle">0.4</text><text x="623.5" y="1613" font-family="'Liberation Sans', Arial, sans-serif" font-size="40" font-weight="bold" fill="#000" text-anchor="middle">0.6</text><text x="774.9" y="1613" font-family="'Liberation Sans', Arial, sans-serif" font-size="40" font-weight="bold" fill="#000" text-anchor="middle">0.8</text><text x="926.3" y="1613" font-family="'Liberation Sans', Arial, sans-serif" font-size="40" font-weight="bold" fill="#000" text-anchor="middle">1.0</text><text x="338.4" y="1659.8" font-family="'Liberation Serif', 'Times New Roman', serif" font-size="40" font-weight="bold" textLength="378.6" lengthAdjust="spacingAndGlyphs">Relative pressure(<tspan font-style="italic">p</tspan>/<tspan font-style="italic">p</tspan><tspan font-size="21" dy="10">0</tspan><tspan dy="-10">)</tspan></text><text transform="translate(64 1234.8) rotate(-90)" x="0" y="0" font-family="'Liberation Serif', 'Times New Roman', serif" font-size="40" font-weight="bold" text-anchor="middle" textLength="423" lengthAdjust="spacingAndGlyphs">Quantity adsorbed (a.u.)</text><text x="930.4" y="928.6" font-family="'Liberation Sans', Arial, sans-serif" font-size="58" font-weight="bold" fill="#000" text-anchor="start" textLength="64.6" lengthAdjust="spacingAndGlyphs">(c)</text><line x1="112" y1="896" x2="195.2" y2="896" stroke="#000000" stroke-width="4.4" stroke-linecap="butt"/><rect x="146.9" y="888.2" width="15.6" height="15.6" fill="#000000"/><text x="205.6" y="907.4" font-family="'Liberation Sans', Arial, sans-serif" font-size="37" font-weight="bold" fill="#000000" text-anchor="start" textLength="171.5" lengthAdjust="spacingAndGlyphs">Ti-Beta-60</text><line x1="112" y1="942.4" x2="195.2" y2="942.4" stroke="#ff0000" stroke-width="4.4" stroke-linecap="butt"/><circle cx="154.7" cy="942.4" r="7.4" fill="#ff0000"/><text x="205.6" y="954.2" font-family="'Liberation Sans', Arial, sans-serif" font-size="37" font-weight="bold" fill="#ff0000" text-anchor="start" textLength="171" lengthAdjust="spacingAndGlyphs">Ti-Beta-80</text><line x1="112" y1="989.8" x2="195.2" y2="989.8" stroke="#0000ff" stroke-width="4.4" stroke-linecap="butt"/><path d="M154.7 977L164.7 996.4L144.7 996.4Z" fill="#0000ff"/><text x="205.6" y="1001.2" font-family="'Liberation Sans', Arial, sans-serif" font-size="37" font-weight="bold" fill="#0000ff" text-anchor="start" textLength="191.4" lengthAdjust="spacingAndGlyphs">Ti-Beta-100</text><line x1="112" y1="1036.3" x2="195.2" y2="1036.3" stroke="#ff00ff" stroke-width="4.4" stroke-linecap="butt"/><path d="M154.7 1048.9L165.1 1030.1L144.3 1030.1Z" fill="#ff00ff"/><text x="205.6" y="1048.6" font-family="'Liberation Sans', Arial, sans-serif" font-size="37" font-weight="bold" fill="#ff00ff" text-anchor="start" textLength="122.3" lengthAdjust="spacingAndGlyphs">Si-Beta</text><path d="M1232.1 1514.6l7.1 0l7.1 -5.8l5 -109.6l7.1 -167.3l7.1 -34.7l6.7 -10.3l7.5 -53.1l7.2 -23.1l6 -46.2l7.1 -65.2l8.6 -76.1l8.5 302.9l10.3 132.7l11.4 35.2l8.9 120.6l6.1 0l13.2 0l13.2 0l12.2 0l13.2 0l13.2 0l13.2 0l13.2 0l13.2 0l13.1 0l14.2 0l13.2 0l13.2 0l10.2 0l7.3 -24.2l17 -9.3l14.2 6.4l14.2 8.1l15.7 -2.3l24.1 -8.7l23.2 4.6l22.9 4.1l22.3 -5.8l22.1 1.7l24 -4.6l21.9 2.3l23.8 2.9l22.7 0.6l22.7 -0.6l30.5 0.6l31 1.7l29.4 1.7l31.3 0l31.5 0l29.4 0l30.2 0l38 3.5l38.7 2.3" fill="none" stroke="#000000" stroke-width="4.0" stroke-linejoin="round" stroke-linecap="round"/><g fill="#000000"><rect x="1223.9" y="1506.4" width="16.4" height="16.4"/><rect x="1231" y="1506.4" width="16.4" height="16.4"/><rect x="1238.1" y="1500.6" width="16.4" height="16.4"/><rect x="1243.1" y="1391" width="16.4" height="16.4"/><rect x="1250.2" y="1223.7" width="16.4" height="16.4"/><rect x="1257.4" y="1189.1" width="16.4" height="16.4"/><rect x="1264" y="1178.7" width="16.4" height="16.4"/><rect x="1271.6" y="1125.6" width="16.4" height="16.4"/><rect x="1278.7" y="1102.5" width="16.4" height="16.4"/><rect x="1284.8" y="1056.3" width="16.4" height="16.4"/><rect x="1291.9" y="991.1" width="16.4" height="16.4"/><rect x="1300.4" y="915" width="16.4" height="16.4"/><rect x="1308.9" y="1217.9" width="16.4" height="16.4"/><rect x="1319.3" y="1350.6" width="16.4" height="16.4"/><rect x="1330.6" y="1385.8" width="16.4" height="16.4"/><rect x="1339.5" y="1506.4" width="16.4" height="16.4"/><rect x="1345.6" y="1506.4" width="16.4" height="16.4"/><rect x="1358.8" y="1506.4" width="16.4" height="16.4"/><rect x="1372" y="1506.4" width="16.4" height="16.4"/><rect x="1384.2" y="1506.4" width="16.4" height="16.4"/><rect x="1397.4" y="1506.4" width="16.4" height="16.4"/><rect x="1410.6" y="1506.4" width="16.4" height="16.4"/><rect x="1423.8" y="1506.4" width="16.4" height="16.4"/><rect x="1437" y="1506.4" width="16.4" height="16.4"/><rect x="1450.2" y="1506.4" width="16.4" height="16.4"/><rect x="1463.4" y="1506.4" width="16.4" height="16.4"/><rect x="1477.6" y="1506.4" width="16.4" height="16.4"/><rect x="1490.8" y="1506.4" width="16.4" height="16.4"/><rect x="1503.9" y="1506.4" width="16.4" height="16.4"/><rect x="1514.1" y="1506.4" width="16.4" height="16.4"/><rect x="1521.4" y="1482.2" width="16.4" height="16.4"/><rect x="1538.4" y="1472.9" width="16.4" height="16.4"/><rect x="1552.7" y="1479.3" width="16.4" height="16.4"/><rect x="1566.9" y="1487.4" width="16.4" height="16.4"/><rect x="1582.5" y="1485.1" width="16.4" height="16.4"/><rect x="1606.6" y="1476.4" width="16.4" height="16.4"/><rect x="1629.8" y="1481" width="16.4" height="16.4"/><rect x="1652.7" y="1485.1" width="16.4" height="16.4"/><rect x="1675" y="1479.3" width="16.4" height="16.4"/><rect x="1697.2" y="1481" width="16.4" height="16.4"/><rect x="1721.1" y="1476.4" width="16.4" height="16.4"/><rect x="1743" y="1478.7" width="16.4" height="16.4"/><rect x="1766.8" y="1481.6" width="16.4" height="16.4"/><rect x="1789.5" y="1482.2" width="16.4" height="16.4"/><rect x="1812.2" y="1481.6" width="16.4" height="16.4"/><rect x="1842.7" y="1482.2" width="16.4" height="16.4"/><rect x="1873.7" y="1483.9" width="16.4" height="16.4"/><rect x="1903.2" y="1485.6" width="16.4" height="16.4"/><rect x="1934.4" y="1485.6" width="16.4" height="16.4"/><rect x="1965.9" y="1485.6" width="16.4" height="16.4"/><rect x="1995.3" y="1485.6" width="16.4" height="16.4"/><rect x="2025.5" y="1485.6" width="16.4" height="16.4"/><rect x="2063.5" y="1489.1" width="16.4" height="16.4"/><rect x="2102.3" y="1491.4" width="16.4" height="16.4"/></g><path d="M1229 1514.6l7.1 0l8.1 -2.9l6.1 -83.7l7.1 -103.8l7.1 -98.1l6.1 -28.9l6.5 9.9l5.7 -38.7l6.9 -5.2l8.7 -99.2l10.2 -46.8l9.3 223.3l9.5 122.3l15.7 50.2l6.7 101.6l4 0l13.2 0l13.2 0l12.2 0l13.2 0l13.2 0l13.2 0l13.2 0l13.2 0l13.1 0l14.2 0l13.2 0l13.2 0l10.2 0l7.3 -15.6l17 -9.2l14.2 1.7l14.2 11l15.7 -3.5l24.1 -5.2l23.2 2.9l22.9 2.3l22.3 -5.2l22.1 5.2l24 -2.3l21.9 0.6l23.8 0.6l22.7 0l22.7 0l30.5 1.1l31 0l29.4 0.6l31.3 -0.6l31.5 -1.7l29.4 0l30.2 0l38 2.9l38.7 0.6" fill="none" stroke="#ff0000" stroke-width="4.0" stroke-linejoin="round" stroke-linecap="round"/><g fill="#ff0000"><circle cx="1229" cy="1514.6" r="7.8"/><circle cx="1236.1" cy="1514.6" r="7.8"/><circle cx="1244.2" cy="1511.7" r="7.8"/><circle cx="1250.3" cy="1428" r="7.8"/><circle cx="1257.4" cy="1324.2" r="7.8"/><circle cx="1264.5" cy="1226.1" r="7.8"/><circle cx="1270.6" cy="1197.2" r="7.8"/><circle cx="1277.1" cy="1207.1" r="7.8"/><circle cx="1282.8" cy="1168.4" r="7.8"/><circle cx="1289.7" cy="1163.2" r="7.8"/><circle cx="1298.4" cy="1064" r="7.8"/><circle cx="1308.6" cy="1017.2" r="7.8"/><circle cx="1317.9" cy="1240.5" r="7.8"/><circle cx="1327.4" cy="1362.8" r="7.8"/><circle cx="1343.1" cy="1413" r="7.8"/><circle cx="1349.8" cy="1514.6" r="7.8"/><circle cx="1353.8" cy="1514.6" r="7.8"/><circle cx="1367" cy="1514.6" r="7.8"/><circle cx="1380.2" cy="1514.6" r="7.8"/><circle cx="1392.4" cy="1514.6" r="7.8"/><circle cx="1405.6" cy="1514.6" r="7.8"/><circle cx="1418.8" cy="1514.6" r="7.8"/><circle cx="1432" cy="1514.6" r="7.8"/><circle cx="1445.2" cy="1514.6" r="7.8"/><circle cx="1458.4" cy="1514.6" r="7.8"/><circle cx="1471.5" cy="1514.6" r="7.8"/><circle cx="1485.7" cy="1514.6" r="7.8"/><circle cx="1498.9" cy="1514.6" r="7.8"/><circle cx="1512.1" cy="1514.6" r="7.8"/><circle cx="1522.3" cy="1514.6" r="7.8"/><circle cx="1529.6" cy="1499" r="7.8"/><circle cx="1546.6" cy="1489.8" r="7.8"/><circle cx="1560.8" cy="1491.5" r="7.8"/><circle cx="1575" cy="1502.5" r="7.8"/><circle cx="1590.7" cy="1499" r="7.8"/><circle cx="1614.8" cy="1493.8" r="7.8"/><circle cx="1638" cy="1496.7" r="7.8"/><circle cx="1660.9" cy="1499" r="7.8"/><circle cx="1683.2" cy="1493.8" r="7.8"/><circle cx="1705.3" cy="1499" r="7.8"/><circle cx="1729.3" cy="1496.7" r="7.8"/><circle cx="1751.2" cy="1497.3" r="7.8"/><circle cx="1775" cy="1497.9" r="7.8"/><circle cx="1797.7" cy="1497.9" r="7.8"/><circle cx="1820.4" cy="1497.9" r="7.8"/><circle cx="1850.9" cy="1499" r="7.8"/><circle cx="1881.9" cy="1499" r="7.8"/><circle cx="1911.3" cy="1499.6" r="7.8"/><circle cx="1942.6" cy="1499" r="7.8"/><circle cx="1974.1" cy="1497.3" r="7.8"/><circle cx="2003.5" cy="1497.3" r="7.8"/><circle cx="2033.7" cy="1497.3" r="7.8"/><circle cx="2071.7" cy="1500.2" r="7.8"/><circle cx="2110.4" cy="1500.8" r="7.8"/></g><path d="M1236.1 1514.6l8.1 -9.2l7.5 -102.2l6.7 -101.5l7.8 -58.9l2.4 -66.9l6.1 -6.3l11.1 -41l13.8 -38.7l10.6 13.3l8.1 148.9l9.1 104.4l12.4 68.7l7.5 89.4l6.5 0l13.2 0l13.2 0l12.2 0l13.2 0l13.2 0l13.2 0l13.2 0l13.2 0l13.1 0l13.8 -17.3l13.6 14.4l13.2 0l10.2 -8.6l7.3 -6.4l17 -9.2l14.2 1.7l14.2 11l15.7 -3.5l24.1 -5.2l23.2 2.9l22.9 2.3l22.3 -5.2l22.1 5.2l24 -2.3l21.9 0.6l23.8 0.6l22.7 0l22.7 0l30.5 1.1l31 0l29.4 0.6l31.3 -0.6l31.5 -1.7l29.4 0l30.2 0l38 2.9l38.7 0.5" fill="none" stroke="#0000ff" stroke-width="4.0" stroke-linejoin="round" stroke-linecap="round"/><g fill="#0000ff"><path d="M1236.1 1501.2L1246.6 1521.5L1225.6 1521.5Z"/><path d="M1244.2 1491.9L1254.7 1512.3L1233.7 1512.3Z"/><path d="M1251.7 1389.8L1262.2 1410.2L1241.2 1410.2Z"/><path d="M1258.4 1288.2L1268.9 1308.6L1247.9 1308.6Z"/><path d="M1266.2 1229.4L1276.7 1249.8L1255.7 1249.8Z"/><path d="M1268.6 1162.5L1279.1 1182.8L1258.1 1182.8Z"/><path d="M1274.7 1156.1L1285.2 1176.5L1264.2 1176.5Z"/><path d="M1285.8 1115.1L1296.3 1135.5L1275.3 1135.5Z"/><path d="M1299.6 1076.5L1310.1 1096.9L1289.1 1096.9Z"/><path d="M1310.2 1089.8L1320.7 1110.1L1299.7 1110.1Z"/><path d="M1318.3 1238.6L1328.8 1259L1307.8 1259Z"/><path d="M1327.4 1343.1L1337.9 1363.4L1316.9 1363.4Z"/><path d="M1339.8 1411.7L1350.3 1432.1L1329.3 1432.1Z"/><path d="M1347.3 1501.2L1357.8 1521.5L1336.8 1521.5Z"/><path d="M1353.8 1501.2L1364.3 1521.5L1343.3 1521.5Z"/><path d="M1367 1501.2L1377.5 1521.5L1356.5 1521.5Z"/><path d="M1380.2 1501.2L1390.7 1521.5L1369.7 1521.5Z"/><path d="M1392.4 1501.2L1402.9 1521.5L1381.9 1521.5Z"/><path d="M1405.6 1501.2L1416.1 1521.5L1395.1 1521.5Z"/><path d="M1418.8 1501.2L1429.3 1521.5L1408.3 1521.5Z"/><path d="M1432 1501.2L1442.5 1521.5L1421.5 1521.5Z"/><path d="M1445.2 1501.2L1455.7 1521.5L1434.7 1521.5Z"/><path d="M1458.4 1501.2L1468.9 1521.5L1447.9 1521.5Z"/><path d="M1471.5 1501.2L1482 1521.5L1461 1521.5Z"/><path d="M1485.3 1483.8L1495.8 1504.2L1474.8 1504.2Z"/><path d="M1498.9 1498.3L1509.4 1518.6L1488.4 1518.6Z"/><path d="M1512.1 1498.3L1522.6 1518.6L1501.6 1518.6Z"/><path d="M1522.3 1489.6L1532.8 1510L1511.8 1510Z"/><path d="M1529.6 1483.3L1540.1 1503.6L1519.1 1503.6Z"/><path d="M1546.6 1474L1557.1 1494.4L1536.1 1494.4Z"/><path d="M1560.8 1475.8L1571.3 1496.1L1550.3 1496.1Z"/><path d="M1575 1486.7L1585.5 1507.1L1564.5 1507.1Z"/><path d="M1590.7 1483.3L1601.2 1503.6L1580.2 1503.6Z"/><path d="M1614.8 1478.1L1625.3 1498.5L1604.3 1498.5Z"/><path d="M1638 1481L1648.5 1501.3L1627.5 1501.3Z"/><path d="M1660.9 1483.3L1671.4 1503.6L1650.4 1503.6Z"/><path d="M1683.2 1478.1L1693.7 1498.5L1672.7 1498.5Z"/><path d="M1705.3 1483.3L1715.8 1503.6L1694.8 1503.6Z"/><path d="M1729.3 1481L1739.8 1501.3L1718.8 1501.3Z"/><path d="M1751.2 1481.5L1761.7 1501.9L1740.7 1501.9Z"/><path d="M1775 1482.1L1785.5 1502.5L1764.5 1502.5Z"/><path d="M1797.7 1482.1L1808.2 1502.5L1787.2 1502.5Z"/><path d="M1820.4 1482.1L1830.9 1502.5L1809.9 1502.5Z"/><path d="M1850.9 1483.3L1861.4 1503.6L1840.4 1503.6Z"/><path d="M1881.9 1483.3L1892.4 1503.6L1871.4 1503.6Z"/><path d="M1911.3 1483.8L1921.8 1504.2L1900.8 1504.2Z"/><path d="M1942.6 1483.3L1953.1 1503.6L1932.1 1503.6Z"/><path d="M1974.1 1481.5L1984.6 1501.9L1963.6 1501.9Z"/><path d="M2003.5 1481.5L2014 1501.9L1993 1501.9Z"/><path d="M2033.7 1481.5L2044.2 1501.9L2023.2 1501.9Z"/><path d="M2071.7 1484.4L2082.2 1504.8L2061.2 1504.8Z"/><path d="M2110.4 1485L2120.9 1505.4L2099.9 1505.4Z"/></g><path d="M1229.6 1466.1l6.5 -47.3l6.5 -31.1l7.9 -49.7l7.9 -52.5l7.8 -25.9l7.9 -15.6l9.1 5.2l7.9 44.4l5.1 2.9l12.6 33.5l8.3 66.3l10.3 18.5l9.4 47.9l12.4 28.8l12.7 16.8l11.2 2.8l13.2 0l12.2 0l13.2 0l13.2 0l13.2 0l13.1 0l13.2 0l13.2 0l7.7 -34l13.6 32.9l13.2 0l10.2 -2.3l7.3 1.1l17 -7.5l14.2 1.8l14.2 8l15.7 -1.7l24.1 -2.9l23.2 1.2l22.9 -1.8l22.3 1.2l22.1 -0.6l24 1.2l21.9 -0.6l23.8 -0.6l22.7 1.2l22.7 -0.6l30.5 0.6l31 -0.6l29.4 0.6l31.3 -1.2l31.5 -1.1l29.4 0l30.2 1.1l38 1.2l38.7 0" fill="none" stroke="#ff00ff" stroke-width="4.0" stroke-linejoin="round" stroke-linecap="round"/><g fill="#ff00ff"><path d="M1229.6 1479.4L1240.5 1459.6L1218.7 1459.6Z"/><path d="M1236.1 1432L1247 1412.3L1225.2 1412.3Z"/><path d="M1242.6 1400.9L1253.5 1381.1L1231.7 1381.1Z"/><path d="M1250.5 1351.3L1261.4 1331.5L1239.6 1331.5Z"/><path d="M1258.4 1298.8L1269.4 1279L1247.5 1279Z"/><path d="M1266.2 1272.8L1277.1 1253.1L1255.2 1253.1Z"/><path d="M1274.1 1257.2L1285 1237.5L1263.1 1237.5Z"/><path d="M1283.2 1262.4L1294.1 1242.7L1272.3 1242.7Z"/><path d="M1291.1 1306.8L1302 1287.1L1280.2 1287.1Z"/><path d="M1296.2 1309.7L1307.1 1290L1285.3 1290Z"/><path d="M1308.8 1343.2L1319.7 1323.4L1297.9 1323.4Z"/><path d="M1317.1 1409.5L1328 1389.8L1306.2 1389.8Z"/><path d="M1327.4 1428L1338.4 1408.3L1316.5 1408.3Z"/><path d="M1336.8 1475.9L1347.7 1456.2L1325.9 1456.2Z"/><path d="M1349.2 1504.8L1360.1 1485L1338.2 1485Z"/><path d="M1361.9 1521.5L1372.9 1501.7L1351 1501.7Z"/><path d="M1373.1 1524.4L1384 1504.6L1362.2 1504.6Z"/><path d="M1386.3 1524.4L1397.2 1504.6L1375.4 1504.6Z"/><path d="M1398.5 1524.4L1409.4 1504.6L1387.6 1504.6Z"/><path d="M1411.7 1524.4L1422.6 1504.6L1400.8 1504.6Z"/><path d="M1424.9 1524.4L1435.8 1504.6L1413.9 1504.6Z"/><path d="M1438.1 1524.4L1449 1504.6L1427.1 1504.6Z"/><path d="M1451.2 1524.4L1462.2 1504.6L1440.3 1504.6Z"/><path d="M1464.4 1524.4L1475.4 1504.6L1453.5 1504.6Z"/><path d="M1477.6 1524.4L1488.6 1504.6L1466.7 1504.6Z"/><path d="M1485.3 1490.3L1496.3 1470.6L1474.4 1470.6Z"/><path d="M1498.9 1523.2L1509.9 1503.5L1488 1503.5Z"/><path d="M1512.1 1523.2L1523.1 1503.5L1501.2 1503.5Z"/><path d="M1522.3 1520.9L1533.2 1501.2L1511.4 1501.2Z"/><path d="M1529.6 1522.1L1540.5 1502.3L1518.7 1502.3Z"/><path d="M1546.6 1514.6L1557.6 1494.8L1535.7 1494.8Z"/><path d="M1560.8 1516.3L1571.8 1496.5L1549.9 1496.5Z"/><path d="M1575 1524.4L1586 1504.6L1564.1 1504.6Z"/><path d="M1590.7 1522.6L1601.6 1502.9L1579.8 1502.9Z"/><path d="M1614.8 1519.8L1625.7 1500L1603.9 1500Z"/><path d="M1638 1520.9L1648.9 1501.2L1627 1501.2Z"/><path d="M1660.9 1519.2L1671.8 1499.4L1650 1499.4Z"/><path d="M1683.2 1520.3L1694.1 1500.6L1672.3 1500.6Z"/><path d="M1705.3 1519.8L1716.3 1500L1694.4 1500Z"/><path d="M1729.3 1520.9L1740.2 1501.2L1718.4 1501.2Z"/><path d="M1751.2 1520.3L1762.1 1500.6L1740.3 1500.6Z"/><path d="M1775 1519.8L1785.9 1500L1764 1500Z"/><path d="M1797.7 1520.9L1808.6 1501.2L1786.8 1501.2Z"/><path d="M1820.4 1520.3L1831.3 1500.6L1809.5 1500.6Z"/><path d="M1850.9 1520.9L1861.8 1501.2L1839.9 1501.2Z"/><path d="M1881.9 1520.3L1892.8 1500.6L1871 1500.6Z"/><path d="M1911.3 1520.9L1922.3 1501.2L1900.4 1501.2Z"/><path d="M1942.6 1519.8L1953.5 1500L1931.7 1500Z"/><path d="M1974.1 1518.6L1985 1498.9L1963.1 1498.9Z"/><path d="M2003.5 1518.6L2014.4 1498.9L1992.6 1498.9Z"/><path d="M2033.7 1519.8L2044.6 1500L2022.8 1500Z"/><path d="M2071.7 1520.9L2082.6 1501.2L2060.8 1501.2Z"/><path d="M2110.4 1520.9L2121.4 1501.2L2099.5 1501.2Z"/></g><rect x="1207.7" y="867.9" width="913.3" height="683.1" fill="none" stroke="#000" stroke-width="5.6"/><line x1="1207.7" y1="1551" x2="1207.7" y2="1567.5" stroke="#000" stroke-width="5.6" stroke-linecap="butt"/><line x1="1258.4" y1="1551" x2="1258.4" y2="1559.5" stroke="#000" stroke-width="5.6" stroke-linecap="butt"/><line x1="1309.2" y1="1551" x2="1309.2" y2="1567.5" stroke="#000" stroke-width="5.6" stroke-linecap="butt"/><line x1="1359.9" y1="1551" x2="1359.9" y2="1559.5" stroke="#000" stroke-width="5.6" stroke-linecap="butt"/><line x1="1410.7" y1="1551" x2="1410.7" y2="1567.5" stroke="#000" stroke-width="5.6" stroke-linecap="butt"/><line x1="1461.4" y1="1551" x2="1461.4" y2="1559.5" stroke="#000" stroke-width="5.6" stroke-linecap="butt"/><line x1="1512.1" y1="1551" x2="1512.1" y2="1567.5" stroke="#000" stroke-width="5.6" stroke-linecap="butt"/><line x1="1562.9" y1="1551" x2="1562.9" y2="1559.5" stroke="#000" stroke-width="5.6" stroke-linecap="butt"/><line x1="1613.6" y1="1551" x2="1613.6" y2="1567.5" stroke="#000" stroke-width="5.6" stroke-linecap="butt"/><line x1="1664.3" y1="1551" x2="1664.3" y2="1559.5" stroke="#000" stroke-width="5.6" stroke-linecap="butt"/><line x1="1715.1" y1="1551" x2="1715.1" y2="1567.5" stroke="#000" stroke-width="5.6" stroke-linecap="butt"/><line x1="1765.8" y1="1551" x2="1765.8" y2="1559.5" stroke="#000" stroke-width="5.6" stroke-linecap="butt"/><line x1="1816.6" y1="1551" x2="1816.6" y2="1567.5" stroke="#000" stroke-width="5.6" stroke-linecap="butt"/><line x1="1867.3" y1="1551" x2="1867.3" y2="1559.5" stroke="#000" stroke-width="5.6" stroke-linecap="butt"/><line x1="1918" y1="1551" x2="1918" y2="1567.5" stroke="#000" stroke-width="5.6" stroke-linecap="butt"/><line x1="1968.8" y1="1551" x2="1968.8" y2="1559.5" stroke="#000" stroke-width="5.6" stroke-linecap="butt"/><line x1="2019.5" y1="1551" x2="2019.5" y2="1567.5" stroke="#000" stroke-width="5.6" stroke-linecap="butt"/><line x1="2070.3" y1="1551" x2="2070.3" y2="1559.5" stroke="#000" stroke-width="5.6" stroke-linecap="butt"/><line x1="2121" y1="1551" x2="2121" y2="1567.5" stroke="#000" stroke-width="5.6" stroke-linecap="butt"/><text x="1207.7" y="1604.6" font-family="'Liberation Sans', Arial, sans-serif" font-size="40" font-weight="bold" fill="#000" text-anchor="middle">0.5</text><text x="1309.2" y="1604.6" font-family="'Liberation Sans', Arial, sans-serif" font-size="40" font-weight="bold" fill="#000" text-anchor="middle">1.0</text><text x="1410.7" y="1604.6" font-family="'Liberation Sans', Arial, sans-serif" font-size="40" font-weight="bold" fill="#000" text-anchor="middle">1.5</text><text x="1512.1" y="1604.6" font-family="'Liberation Sans', Arial, sans-serif" font-size="40" font-weight="bold" fill="#000" text-anchor="middle">2.0</text><text x="1613.6" y="1604.6" font-family="'Liberation Sans', Arial, sans-serif" font-size="40" font-weight="bold" fill="#000" text-anchor="middle">2.5</text><text x="1715.1" y="1604.6" font-family="'Liberation Sans', Arial, sans-serif" font-size="40" font-weight="bold" fill="#000" text-anchor="middle">3.0</text><text x="1816.6" y="1604.6" font-family="'Liberation Sans', Arial, sans-serif" font-size="40" font-weight="bold" fill="#000" text-anchor="middle">3.5</text><text x="1918" y="1604.6" font-family="'Liberation Sans', Arial, sans-serif" font-size="40" font-weight="bold" fill="#000" text-anchor="middle">4.0</text><text x="2019.5" y="1604.6" font-family="'Liberation Sans', Arial, sans-serif" font-size="40" font-weight="bold" fill="#000" text-anchor="middle">4.5</text><text x="2121" y="1604.6" font-family="'Liberation Sans', Arial, sans-serif" font-size="40" font-weight="bold" fill="#000" text-anchor="middle">5.0</text><line x1="1191.5" y1="1514.6" x2="1207.7" y2="1514.6" stroke="#000" stroke-width="5.6" stroke-linecap="butt"/><line x1="1199" y1="1456.9" x2="1207.7" y2="1456.9" stroke="#000" stroke-width="5.6" stroke-linecap="butt"/><line x1="1191.5" y1="1399.2" x2="1207.7" y2="1399.2" stroke="#000" stroke-width="5.6" stroke-linecap="butt"/><line x1="1199" y1="1341.5" x2="1207.7" y2="1341.5" stroke="#000" stroke-width="5.6" stroke-linecap="butt"/><line x1="1191.5" y1="1283.8" x2="1207.7" y2="1283.8" stroke="#000" stroke-width="5.6" stroke-linecap="butt"/><line x1="1199" y1="1226.1" x2="1207.7" y2="1226.1" stroke="#000" stroke-width="5.6" stroke-linecap="butt"/><line x1="1191.5" y1="1168.4" x2="1207.7" y2="1168.4" stroke="#000" stroke-width="5.6" stroke-linecap="butt"/><line x1="1199" y1="1110.7" x2="1207.7" y2="1110.7" stroke="#000" stroke-width="5.6" stroke-linecap="butt"/><line x1="1191.5" y1="1053" x2="1207.7" y2="1053" stroke="#000" stroke-width="5.6" stroke-linecap="butt"/><line x1="1199" y1="995.3" x2="1207.7" y2="995.3" stroke="#000" stroke-width="5.6" stroke-linecap="butt"/><line x1="1191.5" y1="937.6" x2="1207.7" y2="937.6" stroke="#000" stroke-width="5.6" stroke-linecap="butt"/><line x1="1199" y1="879.9" x2="1207.7" y2="879.9" stroke="#000" stroke-width="5.6" stroke-linecap="butt"/><text x="1182.2" y="1525.1" font-family="'Liberation Sans', Arial, sans-serif" font-size="40" font-weight="bold" fill="#000" text-anchor="end">0.0</text><text x="1182.2" y="1409.7" font-family="'Liberation Sans', Arial, sans-serif" font-size="40" font-weight="bold" fill="#000" text-anchor="end">0.2</text><text x="1182.2" y="1294.3" font-family="'Liberation Sans', Arial, sans-serif" font-size="40" font-weight="bold" fill="#000" text-anchor="end">0.4</text><text x="1182.2" y="1178.9" font-family="'Liberation Sans', Arial, sans-serif" font-size="40" font-weight="bold" fill="#000" text-anchor="end">0.6</text><text x="1182.2" y="1063.5" font-family="'Liberation Sans', Arial, sans-serif" font-size="40" font-weight="bold" fill="#000" text-anchor="end">0.8</text><text x="1182.2" y="948.1" font-family="'Liberation Sans', Arial, sans-serif" font-size="40" font-weight="bold" fill="#000" text-anchor="end">1.0</text><text x="1519.4" y="1655.2" font-family="'Liberation Serif', 'Times New Roman', serif" font-size="40" font-weight="bold" fill="#000" text-anchor="start" textLength="305" lengthAdjust="spacingAndGlyphs">Pore diameter/nm</text><text transform="translate(1111.7 1431.8) rotate(-90)" x="0" y="0" font-family="'Liberation Serif', 'Times New Roman', serif" font-size="40" font-weight="bold" textLength="413.5" lengthAdjust="spacingAndGlyphs">Pore volume/cm<tspan font-size="26" font-weight="normal" dy="-20.5">3</tspan><tspan dy="20.5">nm</tspan><tspan font-size="26" font-weight="normal" dy="-20.5">&#8722;1</tspan><tspan dy="20.5">g</tspan><tspan font-size="26" font-weight="normal" dy="-20.5">&#8722;1</tspan></text><text x="2044.5" y="927" font-family="'Liberation Sans', Arial, sans-serif" font-size="58" font-weight="bold" fill="#000" text-anchor="start" textLength="69.3" lengthAdjust="spacingAndGlyphs">(d)</text><line x1="1636.3" y1="955.5" x2="1719.9" y2="955.5" stroke="#000000" stroke-width="5.6" stroke-linecap="butt"/><rect x="1671.2" y="947.7" width="15.6" height="15.6" fill="#000000"/><text x="1730.2" y="968.1" font-family="'Liberation Sans', Arial, sans-serif" font-size="37" font-weight="bold" fill="#000000" text-anchor="start" textLength="190.8" lengthAdjust="spacingAndGlyphs">Ti-Beta-100</text><line x1="1636.3" y1="1002.1" x2="1719.9" y2="1002.1" stroke="#ff0000" stroke-width="5.6" stroke-linecap="butt"/><circle cx="1679" cy="1002.1" r="7.4" fill="#ff0000"/><text x="1730.2" y="1014.7" font-family="'Liberation Sans', Arial, sans-serif" font-size="37" font-weight="bold" fill="#ff0000" text-anchor="start" textLength="171" lengthAdjust="spacingAndGlyphs">Ti-Beta-80</text><line x1="1636.3" y1="1048.7" x2="1719.9" y2="1048.7" stroke="#0000ff" stroke-width="5.6" stroke-linecap="butt"/><path d="M1679 1035.9L1689 1055.3L1669 1055.3Z" fill="#0000ff"/><text x="1730.2" y="1059.4" font-family="'Liberation Sans', Arial, sans-serif" font-size="37" font-weight="bold" fill="#0000ff" text-anchor="start" textLength="171.5" lengthAdjust="spacingAndGlyphs">Ti-Beta-60</text><line x1="1636.3" y1="1095.3" x2="1719.9" y2="1095.3" stroke="#ff00ff" stroke-width="5.6" stroke-linecap="butt"/><path d="M1679 1107.9L1689.4 1089.1L1668.6 1089.1Z" fill="#ff00ff"/><text x="1730.2" y="1106.7" font-family="'Liberation Sans', Arial, sans-serif" font-size="37" font-weight="bold" fill="#ff00ff" text-anchor="start" textLength="121.5" lengthAdjust="spacingAndGlyphs">Si-Beta</text></svg></body></html>
